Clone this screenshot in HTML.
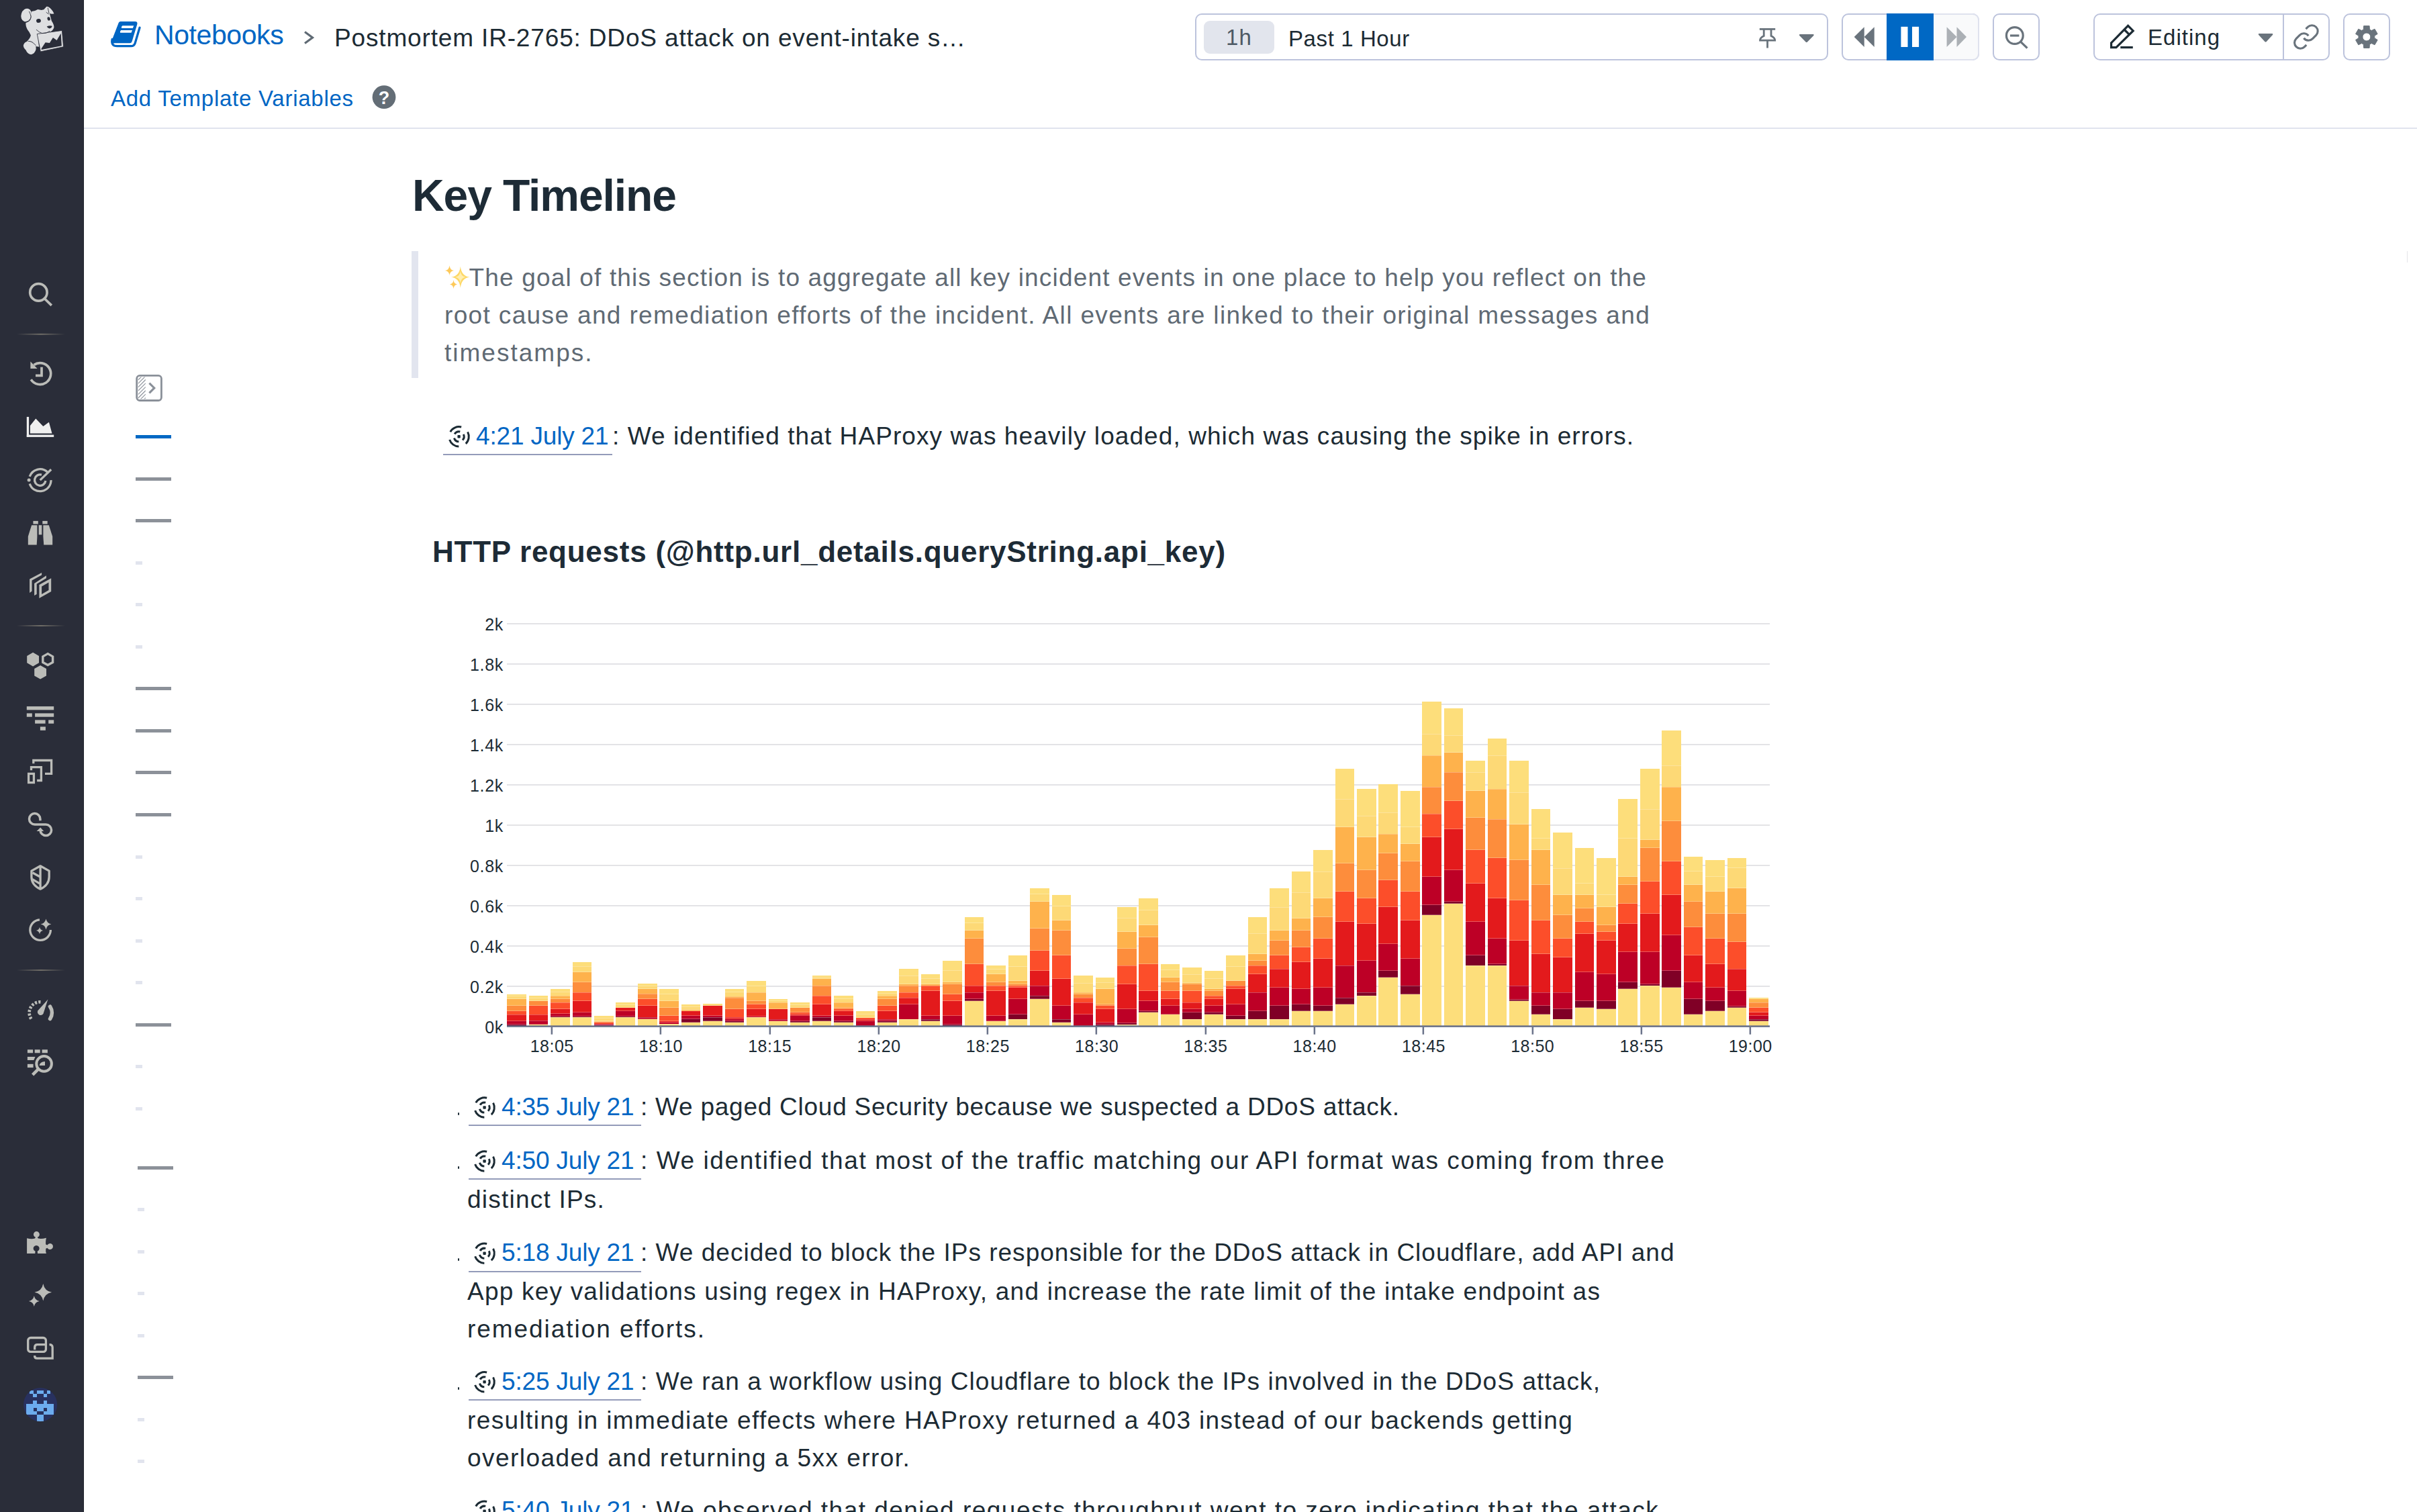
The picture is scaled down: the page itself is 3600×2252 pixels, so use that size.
<!DOCTYPE html>
<html lang="en"><head><meta charset="utf-8"><title>Postmortem IR-2765: DDoS attack on event-intake service</title>
<style>
html,body{margin:0;padding:0;}
body{width:3600px;height:2252px;overflow:hidden;background:#fff;position:relative;font-family:"Liberation Sans",sans-serif;}
.t{position:absolute;white-space:pre;margin:0;padding:0;font-weight:400;}
a.t{text-decoration:none;}
.abs{position:absolute;}
#sidebar{position:absolute;left:0;top:0;width:125px;height:2252px;background:#2a2d39;box-sizing:border-box;border-right:1px solid #20232d;}
#header{position:absolute;left:125px;top:0;width:3475px;height:190px;border-bottom:2px solid #e0e3ee;background:#fff;}
.box{position:absolute;box-sizing:border-box;border:2px solid #bcc3dc;border-radius:10px;background:#fff;}
.ul{position:absolute;height:2px;background:#939bb9;}
svg{position:absolute;overflow:visible;}
</style></head><body>
<div id="sidebar"></div><svg id="sideicons" style="left:0;top:0" width="125" height="2252" viewBox="0 0 125 2252"><defs><linearGradient id="dv" x1="0" x2="1" y1="0" y2="0"><stop offset="0" stop-color="#77746c" stop-opacity="0"/><stop offset="0.5" stop-color="#77746c" stop-opacity="0.9"/><stop offset="1" stop-color="#77746c" stop-opacity="0"/></linearGradient></defs><rect x="25" y="496.8" width="72" height="2" fill="url(#dv)"/><rect x="25" y="931" width="72" height="2" fill="url(#dv)"/><rect x="25" y="1444" width="72" height="2" fill="url(#dv)"/><g transform="translate(20,0) scale(0.05952)"><g fill="#dedfe1"><ellipse cx="322" cy="378" rx="128" ry="168" transform="rotate(18 322 378)"/><path d="M455,285 L540,270 L610,235 L700,250 L760,240 L830,165 Q870,150 930,215 Q1000,290 1015,345 L960,350 L905,335 L955,520 Q1020,620 1015,690 Q990,780 900,800 L880,830 L790,850 L640,850 L610,870 L640,1170 L560,1160 L470,1040 L380,1030 L330,1040 Q420,960 435,880 Q400,800 350,740 Q300,640 310,570 Q420,540 450,420 Z"/><path d="M380,1035 Q280,1040 250,1130 Q245,1200 310,1250 Q350,1350 440,1365 Q540,1340 565,1230 Q575,1110 470,1045 Z"/><path d="M593,850 L1217,763 L1252,1172 L678,1292 Z" stroke="#2a2d39" stroke-width="14"/></g><g fill="#2a2d39"><path d="M700,1212 L800,1062 L905,1076 L990,940 L1085,1006 L1187,835 L1207,1145 L702,1242 Z"/><ellipse cx="630" cy="520" rx="58" ry="50" transform="rotate(-12 630 520)"/><ellipse cx="885" cy="470" rx="36" ry="46" transform="rotate(-15 885 470)"/><path d="M835,665 Q900,630 970,650 Q960,700 900,715 Q850,700 835,665 Z"/></g><g fill="none" stroke="#2a2d39" stroke-width="14" stroke-linecap="round"><path d="M575,745 Q640,810 720,835 Q820,850 905,780"/><path d="M395,290 Q470,420 410,510 Q380,545 320,545"/><path d="M862,200 L890,330 M825,310 L880,352"/><path d="M380,1030 Q470,1030 560,1135"/></g></g><g fill="none" stroke="#bbbcb8" stroke-width="3.7"><circle cx="57.4" cy="435.4" r="12.7"/><path d="M66.6,445 L76.8,454.8"/></g><g fill="none" stroke="#bbbcb8" stroke-width="3.7"><path d="M50.5,543.5 A16,16 0 1 1 46.2,565.2"/><path d="M62,546.8 V559.4 H53"/></g><path d="M45.4,538.6 V548.9 H55.6 Z" fill="#bbbcb8"/><g fill="#efefef"><rect x="39.8" y="620.9" width="3.3" height="30"/><rect x="39.8" y="647.6" width="40.4" height="3.3"/><path d="M44.9,645.6 V634.1 L53.3,623.5 L64.3,635 L72.9,628.8 L77.5,645.6 Z"/></g><g fill="none" stroke="#bbbcb8" stroke-width="3.3"><path d="M44.2,709.8 A16.3,16.3 0 0 1 70.5,702.9"/><path d="M44.2,720.4 A16.3,16.3 0 0 0 76,715.1"/><path d="M67.9,716 A8.2,8.2 0 1 1 62,707.2"/><path d="M59.7,715.1 L76.2,699.3"/></g><circle cx="43.1" cy="715.1" r="2.5" fill="#bbbcb8"/><g fill="#bbbcb8"><rect x="49.4" y="775.9" width="7.4" height="4.6"/><rect x="63.3" y="775.9" width="7.4" height="4.6"/><path d="M47.1,782.2 H55.4 V799 L54.7,811.6 H41.8 V799 Z"/><path d="M72.8,782.2 H64.4 V799 L65.2,811.6 H78.2 V799 Z"/><rect x="57.7" y="782.2" width="4.6" height="14.2"/></g><g fill="#bbbcb8" fill-rule="evenodd"><path d="M58.4,871.1 L76.2,861.2 V881 L58.4,891 Z M62.1,873.5 V885 L72.5,879 V867.4 Z"/><path d="M51.1,869.1 L68.9,857.2 V861.2 L54.7,869.8 V885 L51.1,887 Z"/><path d="M44.1,862.5 L62.1,853 V856.6 L47.5,864.5 V880.4 L44.1,883 Z"/></g><polygon points="49.1,971.8 58.0,977.0 58.0,987.2 49.1,992.4 40.2,987.2 40.2,977.0" fill="#bbbcb8"/><polygon points="60.1,990.9 69.0,996.1 69.0,1006.4 60.1,1011.5 51.2,1006.4 51.2,996.1" fill="#bbbcb8"/><polygon points="71.2,973.6 78.6,977.9 78.6,986.4 71.2,990.6 63.8,986.4 63.8,977.9" fill="none" stroke="#bbbcb8" stroke-width="3.4"/><g fill="#bbbcb8"><rect x="39.8" y="1052.1" width="40.4" height="5.3"/><rect x="39.8" y="1062.4" width="8" height="5.3"/><rect x="52.1" y="1062.4" width="28.1" height="5.3"/><rect x="52.1" y="1072.4" width="15.5" height="5.3"/><rect x="72.2" y="1072.4" width="8" height="5.3"/><rect x="59.9" y="1082.4" width="8" height="5.4"/></g><g fill="none" stroke="#bbbcb8" stroke-width="3.3"><path d="M49.8,1137.3 V1132.5 H76.6 V1152.3 H67"/><path d="M46.5,1147.2 V1142.7 H61.4 V1162.5 H55.1"/><rect x="42.6" y="1152.4" width="7.8" height="13.2"/></g><g fill="none" stroke="#bbbcb8" stroke-width="3.5"><path d="M59.9,1222.2 V1219.8 A8.2,8.2 0 1 0 51.7,1228 H68.3 A8.3,8.3 0 1 1 60,1236.6"/></g><path d="M54.6,1238 L60.2,1232.6 L65.2,1238 Z" fill="#bbbcb8"/><g fill="none" stroke="#bbbcb8" stroke-width="3.3" stroke-linejoin="round"><path d="M60.1,1289.8 L73.2,1297.1 V1306 Q73.2,1318 60.1,1324.2 Q46.9,1318 46.9,1306 V1297.1 Z"/><path d="M60.1,1290 V1324 M48.4,1299.8 L59.7,1306 M48.4,1309.7 L59.7,1316.3"/></g><path d="M59,1369.8 A15.3,15.3 0 1 0 75.4,1385.1" fill="none" stroke="#bbbcb8" stroke-width="3.3"/><path d="M68.5,1368.6 Q69.8,1375.2 76.4,1376.5 Q69.8,1377.8 68.5,1384.4 Q67.2,1377.8 60.6,1376.5 Q67.2,1375.2 68.5,1368.6Z" fill="#bbbcb8"/><path d="M59.0,1380.8 Q59.8,1385.2 64.2,1386.0 Q59.8,1386.8 59.0,1391.2 Q58.2,1386.8 53.8,1386.0 Q58.2,1385.2 59.0,1380.8Z" fill="#bbbcb8"/><g fill="none" stroke="#bbbcb8"><path d="M46.5,1517.5 A16,16 0 0 1 62.5,1492.6" stroke-width="4.6" stroke-dasharray="3.2 2.2"/><path d="M74.6,1499.3 A16.5,16.5 0 0 1 74.6,1517.5" stroke-width="5.6" stroke-linecap="round"/></g><path d="M71.4,1488.4 L64.6,1509.4 A4.6,4.6 0 1 1 56.4,1505.2 Z" fill="#bbbcb8"/><g fill="#bbbcb8"><rect x="40.9" y="1563.3" width="8.2" height="5"/><rect x="51.7" y="1563.3" width="8" height="5"/><rect x="62.6" y="1563.3" width="8.3" height="5"/><path d="M40.9,1574.1 H52.5 L50.3,1579.1 H40.9 Z"/><rect x="40.9" y="1584.8" width="8.7" height="5.3"/><path d="M58.6,1587 H67 V1581.1 Q59.5,1581.5 58.6,1587 Z"/></g><g fill="none" stroke="#bbbcb8"><circle cx="65.6" cy="1584.4" r="11.3" stroke-width="4"/><path d="M56.8,1592.6 L48.6,1600.8" stroke-width="4.6"/></g><g fill="#bbbcb8"><path d="M40.1,1844.3 Q47,1845.8 52,1844.6 L53,1842.8 A4.5,4.5 0 1 1 55.8,1842.8 L56.8,1844.6 Q62,1845.8 68.9,1843.7 Q67.6,1850 68.3,1853.5 L70.5,1854.5 A4.5,4.5 0 1 1 70.5,1858.7 L68.3,1859.7 Q67.8,1863.5 68.9,1867.1 H56 L55.8,1863.6 A4.5,4.5 0 1 0 52.5,1863.6 L52.3,1867.1 H40.1 Z"/></g><path d="M50.8,1927.8 Q52.4,1936.4 61.0,1938.0 Q52.4,1939.6 50.8,1948.2 Q49.2,1939.6 40.6,1938.0 Q49.2,1936.4 50.8,1927.8Z" fill="#2a2d39"/><path d="M64.3,1912.0 Q66.3,1922.8 77.1,1924.8 Q66.3,1926.8 64.3,1937.6 Q62.3,1926.8 51.5,1924.8 Q62.3,1922.8 64.3,1912.0Z" fill="#bbbcb8"/><path d="M50.8,1927.4 Q52.5,1936.3 61.4,1938.0 Q52.5,1939.7 50.8,1948.6 Q49.1,1939.7 40.2,1938.0 Q49.1,1936.3 50.8,1927.4Z" fill="#2a2d39"/><path d="M50.8,1930.1 Q52.1,1936.7 58.7,1938.0 Q52.1,1939.3 50.8,1945.9 Q49.5,1939.3 42.9,1938.0 Q49.5,1936.7 50.8,1930.1Z" fill="#bbbcb8"/><g fill="none" stroke="#bbbcb8" stroke-width="3.3"><rect x="41.7" y="1992.5" width="26.7" height="20.9" rx="4"/><path d="M51.7,2010.3 V2006.7 Q51.7,2002.7 55.7,2002.7 H67"/><path d="M73.5,2002.7 Q78.2,2002.7 78.2,2007 V2023.2 H55 Q51.6,2023.2 51.6,2019"/></g><clipPath id="avc"><circle cx="60.1" cy="2092" r="25.1"/></clipPath><g clip-path="url(#avc)"><rect x="30" y="2060" width="62" height="64" fill="#28315f"/><g fill="#6cacee" shape-rendering="crispEdges"><rect x="44.33" y="2070.80" width="5.22" height="5.22"/><rect x="54.58" y="2070.80" width="5.22" height="5.22"/><rect x="59.70" y="2070.80" width="5.22" height="5.22"/><rect x="69.95" y="2070.80" width="5.22" height="5.22"/><rect x="49.45" y="2075.93" width="5.22" height="5.22"/><rect x="64.83" y="2075.93" width="5.22" height="5.22"/><rect x="49.45" y="2086.18" width="5.22" height="5.22"/><rect x="64.83" y="2086.18" width="5.22" height="5.22"/><rect x="39.20" y="2091.30" width="5.22" height="5.22"/><rect x="44.33" y="2091.30" width="5.22" height="5.22"/><rect x="49.45" y="2091.30" width="5.22" height="5.22"/><rect x="54.58" y="2091.30" width="5.22" height="5.22"/><rect x="59.70" y="2091.30" width="5.22" height="5.22"/><rect x="64.83" y="2091.30" width="5.22" height="5.22"/><rect x="69.95" y="2091.30" width="5.22" height="5.22"/><rect x="75.08" y="2091.30" width="5.22" height="5.22"/><rect x="39.20" y="2096.43" width="5.22" height="5.22"/><rect x="44.33" y="2096.43" width="5.22" height="5.22"/><rect x="54.58" y="2096.43" width="5.22" height="5.22"/><rect x="59.70" y="2096.43" width="5.22" height="5.22"/><rect x="69.95" y="2096.43" width="5.22" height="5.22"/><rect x="75.08" y="2096.43" width="5.22" height="5.22"/><rect x="39.20" y="2101.55" width="5.22" height="5.22"/><rect x="44.33" y="2101.55" width="5.22" height="5.22"/><rect x="49.45" y="2101.55" width="5.22" height="5.22"/><rect x="64.83" y="2101.55" width="5.22" height="5.22"/><rect x="69.95" y="2101.55" width="5.22" height="5.22"/><rect x="75.08" y="2101.55" width="5.22" height="5.22"/><rect x="54.58" y="2106.68" width="5.22" height="5.22"/><rect x="59.70" y="2106.68" width="5.22" height="5.22"/><rect x="54.58" y="2111.80" width="5.22" height="5.22"/><rect x="59.70" y="2111.80" width="5.22" height="5.22"/></g></g></svg><div id="header"></div><a class="t" style="left:230.0px;top:28.3px;font-size:41px;line-height:49.2px;color:#0066c4;letter-spacing:-0.414px;">Notebooks</a><span class="t" style="left:498.0px;top:34.9px;font-size:37px;line-height:44.4px;color:#1c2b34;letter-spacing:0.845px;">Postmortem IR-2765: DDoS attack on event-intake s…</span><a class="t" style="left:165.0px;top:126.9px;font-size:33px;line-height:39.6px;color:#0066c4;letter-spacing:0.744px;">Add Template Variables</a><div class="box" style="left:1780px;top:20px;width:943px;height:70px;"></div><div class="abs" style="left:1793px;top:31px;width:105px;height:49px;border-radius:9px;background:#e2e5ed;"></div><span class="t" style="left:1826.1px;top:36.3px;font-size:33px;line-height:39.6px;color:#4d5964;letter-spacing:1.000px;">1h</span><span class="t" style="left:1919.0px;top:37.7px;font-size:33px;line-height:39.6px;color:#1c2b34;letter-spacing:0.595px;">Past 1 Hour</span><div class="box" style="left:2743px;top:20px;width:205px;height:70px;overflow:hidden;"><div class="abs" style="left:135px;top:-2px;width:70px;height:70px;background:#f9fafb;"></div></div><div class="abs" style="left:2880px;top:20px;width:68px;height:70px;box-sizing:border-box;border:2px solid #dfe2ee;border-left:none;border-radius:0 10px 10px 0;background:#f9fafb;"></div><div class="abs" style="left:2810px;top:20px;width:70px;height:70px;background:#0068c4;"></div><div class="box" style="left:2968px;top:20px;width:70px;height:70px;"></div><div class="box" style="left:3118px;top:20px;width:352px;height:70px;"></div><div class="abs" style="left:3400px;top:21px;width:2px;height:68px;background:#bcc3dc;"></div><span class="t" style="left:3199.0px;top:36.4px;font-size:33px;line-height:39.6px;color:#1c2b34;letter-spacing:1.014px;">Editing</span><div class="box" style="left:3490px;top:20px;width:70px;height:70px;"></div><svg id="headicons" style="left:0;top:0" width="3600" height="192" viewBox="0 0 3600 192"><g fill="#0066c4"><path d="M179.5,31.9 H201 Q205.4,31.9 204.3,36.2 L196.6,61.8 Q195.8,64.3 193.2,64.3 H171 Q168.5,64.3 167.3,66 L166.4,62.5 Q166.6,60 167.6,57.5 L176.8,33.8 Q177.6,31.9 179.5,31.9 Z"/></g><path d="M167.2,58.5 Q164.8,68.7 174.5,68.7 H195.2 Q199.8,68.7 201.2,64.2 L208,41.2" fill="none" stroke="#0066c4" stroke-width="3.3" stroke-linecap="round"/><path d="M182.4,38.2 H199.3 L197.8,42 H181 Q180.6,39 182.4,38.2 Z M180.2,45 H197 L195.5,48.7 H179 Q178.5,46 180.2,45 Z" fill="#fff"/><path d="M454,47.5 L465.5,56 L454,64.5" fill="none" stroke="#5f6a74" stroke-width="3.2"/><circle cx="572" cy="144.7" r="17.4" fill="#636d76"/><g fill="none" stroke="#69737c" stroke-width="2.8"><path d="M2620.8,43.4 H2644.2"/><path d="M2627.2,44 V53.5 Q2621.5,56 2621.5,60.2 H2643.7 Q2643.7,56 2638,53.5 V44"/><path d="M2632.5,61 V71.5"/></g><path d="M2681.0,51 H2700.5 Q2702.5,51.5 2701,53.2 L2691.95,62.6 Q2690.75,63.6 2689.55,62.6 L2680.5,53.2 Q2679.0,51.5 2681.0,51 Z" fill="#69737c"/><path d="M3364.9,50 H3384.2 Q3386.2,50.5 3384.7,52.2 L3375.75,61.9 Q3374.55,62.9 3373.3500000000004,61.9 L3364.4,52.2 Q3362.9,50.5 3364.9,50 Z" fill="#69737c"/><path d="M2761.7,55 L2776.7,40.2 V55 L2791.7,40.2 V70 L2776.7,55 V70 Z" fill="#69737c"/><rect x="2831.4" y="39.8" width="10.1" height="30.2" fill="#fff"/><rect x="2848" y="39.8" width="10.1" height="30.2" fill="#fff"/><path d="M2929,55 L2914.5,40.2 V55 L2899.6,40.2 V70 L2914.5,55 V70 Z" fill="#abb0b5"/><g fill="none" stroke="#69737c" stroke-width="3.2"><circle cx="3000.8" cy="53" r="12.4"/><path d="M2994,53 H3007.4"/><path d="M3009.8,62.3 L3019.5,71.6"/></g><g fill="none" stroke="#1c2b34" stroke-width="3.2" stroke-linejoin="miter"><path d="M3144.6,70.6 V63.8 L3169.6,38.3 L3177.2,45.9 L3152,70.6 Z"/><path d="M3164,44 L3171.6,51.6"/><path d="M3158.3,70.6 H3176.8"/></g><g transform="translate(3414,34.1) scale(1.74)" fill="none" stroke="#69737c" stroke-width="1.8" stroke-linecap="butt"><path d="M10 13a5 5 0 0 0 7.54.54l3-3a5 5 0 0 0-7.07-7.07l-1.72 1.71"/><path d="M14 11a5 5 0 0 0-7.54-.54l-3 3a5 5 0 0 0 7.07 7.07l1.71-1.71"/></g><path d="M3520.4,43.9 L3520.7,38.6 L3529.1,38.6 L3529.4,43.9 L3532.3,45.5 L3537.0,43.2 L3541.2,50.5 L3536.8,53.3 L3536.8,56.7 L3541.2,59.5 L3537.0,66.8 L3532.3,64.5 L3529.4,66.1 L3529.1,71.4 L3520.7,71.4 L3520.4,66.1 L3517.5,64.5 L3512.8,66.8 L3508.6,59.5 L3513.0,56.7 L3513.0,53.3 L3508.6,50.5 L3512.8,43.2 L3517.5,45.5 Z M3530.9,55 A6,6 0 1 0 3518.9,55 A6,6 0 1 0 3530.9,55 Z" fill="#69737c" fill-rule="evenodd" stroke="#69737c" stroke-width="1" stroke-linejoin="round"/></svg><span class="t" style="left:563.8px;top:129.8px;font-size:27px;line-height:32.4px;color:#fff;font-weight:700;">?</span><div class="abs" style="left:202px;top:648.0px;width:53px;height:5px;background:#0068c4;"></div><div class="abs" style="left:202px;top:710.5px;width:53px;height:5px;background:#8c9199;"></div><div class="abs" style="left:202px;top:773.1px;width:53px;height:5px;background:#8c9199;"></div><div class="abs" style="left:202px;top:835.6px;width:10px;height:5px;background:#e1e4ee;"></div><div class="abs" style="left:202px;top:898.2px;width:10px;height:5px;background:#e1e4ee;"></div><div class="abs" style="left:202px;top:960.8px;width:10px;height:5px;background:#e1e4ee;"></div><div class="abs" style="left:202px;top:1023.3px;width:53px;height:5px;background:#8c9199;"></div><div class="abs" style="left:202px;top:1085.8px;width:53px;height:5px;background:#8c9199;"></div><div class="abs" style="left:202px;top:1148.4px;width:53px;height:5px;background:#8c9199;"></div><div class="abs" style="left:202px;top:1210.9px;width:53px;height:5px;background:#8c9199;"></div><div class="abs" style="left:202px;top:1273.5px;width:10px;height:5px;background:#e1e4ee;"></div><div class="abs" style="left:202px;top:1336.0px;width:10px;height:5px;background:#e1e4ee;"></div><div class="abs" style="left:202px;top:1398.6px;width:10px;height:5px;background:#e1e4ee;"></div><div class="abs" style="left:202px;top:1461.2px;width:10px;height:5px;background:#e1e4ee;"></div><div class="abs" style="left:202px;top:1523.7px;width:53px;height:5px;background:#8c9199;"></div><div class="abs" style="left:202px;top:1586.2px;width:10px;height:5px;background:#e1e4ee;"></div><div class="abs" style="left:202px;top:1648.8px;width:10px;height:5px;background:#e1e4ee;"></div><div class="abs" style="left:205px;top:1736.5px;width:53px;height:5px;background:#8c9199;"></div><div class="abs" style="left:205px;top:1799.0px;width:10px;height:5px;background:#e1e4ee;"></div><div class="abs" style="left:205px;top:1861.5px;width:10px;height:5px;background:#e1e4ee;"></div><div class="abs" style="left:205px;top:1924.0px;width:10px;height:5px;background:#e1e4ee;"></div><div class="abs" style="left:205px;top:1986.5px;width:10px;height:5px;background:#e1e4ee;"></div><div class="abs" style="left:205px;top:2049.1px;width:53px;height:5px;background:#8c9199;"></div><div class="abs" style="left:205px;top:2111.5px;width:10px;height:5px;background:#e1e4ee;"></div><div class="abs" style="left:205px;top:2174.0px;width:10px;height:5px;background:#e1e4ee;"></div><h1 class="t" style="left:614.0px;top:252.4px;font-size:66px;line-height:79.2px;color:#1d2b36;font-weight:700;letter-spacing:-1.084px;">Key Timeline</h1><div class="abs" style="left:613px;top:374px;width:10px;height:189px;background:#e2e5ef;"></div><span class="t" style="left:698.5px;top:391.9px;font-size:37px;line-height:44.4px;color:#5f6a74;letter-spacing:1.168px;">The goal of this section is to aggregate all key incident events in one place to help you reflect on the</span><span class="t" style="left:662.0px;top:447.7px;font-size:37px;line-height:44.4px;color:#5f6a74;letter-spacing:1.357px;">root cause and remediation efforts of the incident. All events are linked to their original messages and</span><span class="t" style="left:662.0px;top:504.1px;font-size:37px;line-height:44.4px;color:#5f6a74;letter-spacing:2.006px;">timestamps.</span><svg style="left:0;top:0" width="1" height="1"><path d="M670.74,643.17 A14.7,14.7 0 0 1 687.16,636.04 M696.58,643.40 A14.7,14.7 0 0 1 693.81,660.87 M683.34,665.00 A14.7,14.7 0 0 1 669.62,654.84 M677.10,646.55 A7.5,7.5 0 0 1 685.29,642.99 M690.28,646.90 A7.5,7.5 0 0 1 689.00,655.51 M683.34,657.80 A7.5,7.5 0 0 1 676.43,652.49" fill="none" stroke="#1c2b34" stroke-width="3"/><rect x="681.4" y="648.1" width="4.4" height="4.4" rx="1" fill="#1c2b34"/></svg><a class="t" style="left:709.0px;top:627.7px;font-size:37px;line-height:44.4px;color:#0066c4;letter-spacing:-0.177px;">4:21 July 21</a><div class="ul" style="left:659.6px;top:676.1px;width:252.0px;"></div><span class="t" style="left:912.0px;top:627.7px;font-size:37px;line-height:44.4px;color:#1c2b34;letter-spacing:1.074px;">: We identified that HAProxy was heavily loaded, which was causing the spike in errors.</span><h2 class="t" style="left:644.0px;top:795.5px;font-size:44px;line-height:52.8px;color:#1d2b36;font-weight:700;letter-spacing:0.746px;">HTTP requests (@http.url_details.queryString.api_key)</h2><svg style="left:0;top:0" width="1" height="1"><path d="M708.74,1642.37 A14.7,14.7 0 0 1 725.16,1635.24 M734.58,1642.60 A14.7,14.7 0 0 1 731.81,1660.07 M721.34,1664.20 A14.7,14.7 0 0 1 707.62,1654.04 M715.10,1645.75 A7.5,7.5 0 0 1 723.29,1642.19 M728.28,1646.10 A7.5,7.5 0 0 1 727.00,1654.71 M721.34,1657.00 A7.5,7.5 0 0 1 714.43,1651.69" fill="none" stroke="#1c2b34" stroke-width="3"/><rect x="719.4" y="1647.3" width="4.4" height="4.4" rx="1" fill="#1c2b34"/></svg><a class="t" style="left:747.0px;top:1626.9px;font-size:37px;line-height:44.4px;color:#0066c4;letter-spacing:-0.177px;">4:35 July 21</a><div class="ul" style="left:697.7px;top:1675.3px;width:257.0px;"></div><span class="t" style="left:954.0px;top:1626.9px;font-size:37px;line-height:44.4px;color:#1c2b34;letter-spacing:0.748px;">: We paged Cloud Security because we suspected a DDoS attack.</span><svg style="left:0;top:0" width="1" height="1"><path d="M708.74,1722.37 A14.7,14.7 0 0 1 725.16,1715.24 M734.58,1722.60 A14.7,14.7 0 0 1 731.81,1740.07 M721.34,1744.20 A14.7,14.7 0 0 1 707.62,1734.04 M715.10,1725.75 A7.5,7.5 0 0 1 723.29,1722.19 M728.28,1726.10 A7.5,7.5 0 0 1 727.00,1734.71 M721.34,1737.00 A7.5,7.5 0 0 1 714.43,1731.69" fill="none" stroke="#1c2b34" stroke-width="3"/><rect x="719.4" y="1727.3" width="4.4" height="4.4" rx="1" fill="#1c2b34"/></svg><a class="t" style="left:747.0px;top:1706.9px;font-size:37px;line-height:44.4px;color:#0066c4;letter-spacing:-0.177px;">4:50 July 21</a><div class="ul" style="left:697.7px;top:1755.3px;width:257.0px;"></div><span class="t" style="left:954.0px;top:1706.9px;font-size:37px;line-height:44.4px;color:#1c2b34;letter-spacing:1.575px;">: We identified that most of the traffic matching our API format was coming from three</span><span class="t" style="left:696.0px;top:1764.7px;font-size:37px;line-height:44.4px;color:#1c2b34;letter-spacing:1.225px;">distinct IPs.</span><svg style="left:0;top:0" width="1" height="1"><path d="M708.74,1859.57 A14.7,14.7 0 0 1 725.16,1852.44 M734.58,1859.80 A14.7,14.7 0 0 1 731.81,1877.27 M721.34,1881.40 A14.7,14.7 0 0 1 707.62,1871.24 M715.10,1862.95 A7.5,7.5 0 0 1 723.29,1859.39 M728.28,1863.30 A7.5,7.5 0 0 1 727.00,1871.91 M721.34,1874.20 A7.5,7.5 0 0 1 714.43,1868.89" fill="none" stroke="#1c2b34" stroke-width="3"/><rect x="719.4" y="1864.5" width="4.4" height="4.4" rx="1" fill="#1c2b34"/></svg><a class="t" style="left:747.0px;top:1844.1px;font-size:37px;line-height:44.4px;color:#0066c4;letter-spacing:-0.177px;">5:18 July 21</a><div class="ul" style="left:697.7px;top:1892.5px;width:257.0px;"></div><span class="t" style="left:954.0px;top:1844.1px;font-size:37px;line-height:44.4px;color:#1c2b34;letter-spacing:1.013px;">: We decided to block the IPs responsible for the DDoS attack in Cloudflare, add API and</span><span class="t" style="left:696.0px;top:1901.7px;font-size:37px;line-height:44.4px;color:#1c2b34;letter-spacing:1.211px;">App key validations using regex in HAProxy, and increase the rate limit of the intake endpoint as</span><span class="t" style="left:696.0px;top:1957.5px;font-size:37px;line-height:44.4px;color:#1c2b34;letter-spacing:1.946px;">remediation efforts.</span><svg style="left:0;top:0" width="1" height="1"><path d="M708.74,2051.17 A14.7,14.7 0 0 1 725.16,2044.04 M734.58,2051.40 A14.7,14.7 0 0 1 731.81,2068.87 M721.34,2073.00 A14.7,14.7 0 0 1 707.62,2062.84 M715.10,2054.55 A7.5,7.5 0 0 1 723.29,2050.99 M728.28,2054.90 A7.5,7.5 0 0 1 727.00,2063.51 M721.34,2065.80 A7.5,7.5 0 0 1 714.43,2060.49" fill="none" stroke="#1c2b34" stroke-width="3"/><rect x="719.4" y="2056.1" width="4.4" height="4.4" rx="1" fill="#1c2b34"/></svg><a class="t" style="left:747.0px;top:2035.7px;font-size:37px;line-height:44.4px;color:#0066c4;letter-spacing:-0.177px;">5:25 July 21</a><div class="ul" style="left:697.7px;top:2084.1px;width:257.0px;"></div><span class="t" style="left:954.0px;top:2035.7px;font-size:37px;line-height:44.4px;color:#1c2b34;letter-spacing:1.096px;">: We ran a workflow using Cloudflare to block the IPs involved in the DDoS attack,</span><span class="t" style="left:696.0px;top:2094.1px;font-size:37px;line-height:44.4px;color:#1c2b34;letter-spacing:1.383px;">resulting in immediate effects where HAProxy returned a 403 instead of our backends getting</span><span class="t" style="left:696.0px;top:2149.9px;font-size:37px;line-height:44.4px;color:#1c2b34;letter-spacing:1.445px;">overloaded and returning a 5xx error.</span><svg style="left:0;top:0" width="1" height="1"><path d="M708.74,2243.57 A14.7,14.7 0 0 1 725.16,2236.44 M734.58,2243.80 A14.7,14.7 0 0 1 731.81,2261.27 M721.34,2265.40 A14.7,14.7 0 0 1 707.62,2255.24 M715.10,2246.95 A7.5,7.5 0 0 1 723.29,2243.39 M728.28,2247.30 A7.5,7.5 0 0 1 727.00,2255.91 M721.34,2258.20 A7.5,7.5 0 0 1 714.43,2252.89" fill="none" stroke="#1c2b34" stroke-width="3"/><rect x="719.4" y="2248.5" width="4.4" height="4.4" rx="1" fill="#1c2b34"/></svg><a class="t" style="left:747.0px;top:2228.1px;font-size:37px;line-height:44.4px;color:#0066c4;letter-spacing:-0.177px;">5:40 July 21</a><div class="ul" style="left:697.7px;top:2276.5px;width:257.0px;"></div><span class="t" style="left:954.0px;top:2228.1px;font-size:37px;line-height:44.4px;color:#1c2b34;letter-spacing:1.476px;">: We observed that denied requests throughput went to zero indicating that the attack</span><svg style="left:0;top:0" width="1" height="1"><clipPath id="hc"><rect x="205.6" y="561.6" width="11.3" height="32.6"/></clipPath><rect x="203.7" y="559.3" width="36.7" height="37.2" rx="4.5" fill="#fff" stroke="#8a9099" stroke-width="2.8"/><path d="M205.6,566.0 L216.9,554.7 M205.6,571.4 L216.9,560.1 M205.6,576.8 L216.9,565.5 M205.6,582.2 L216.9,570.9 M205.6,587.6 L216.9,576.3 M205.6,593.0 L216.9,581.7 M205.6,598.4 L216.9,587.1 M205.6,603.8 L216.9,592.5" stroke="#8a9099" stroke-width="1.1" fill="none" clip-path="url(#hc)"/><path d="M222.4,570.6 L229.8,577.9 L222.4,585.4" fill="none" stroke="#8a9099" stroke-width="3.1"/></svg><svg style="left:0;top:0" width="1" height="1"><path d="M685.8,396.8 Q687.2,411.2 699.6,412.8 Q687.2,414.4 685.8,428.8 Q684.4,414.4 672.0,412.8 Q684.4,411.2 685.8,396.8Z" fill="#fdd866"/><path d="M685.8,403.8 Q686.6,411.9 693.5,412.8 Q686.6,413.7 685.8,421.8 Q685.0,413.7 678.1,412.8 Q685.0,411.9 685.8,403.8Z" fill="#ffeeb0"/><path d="M669.5,395.5 Q670.1,402.2 676.0,403.0 Q670.1,403.8 669.5,410.5 Q668.9,403.8 663.0,403.0 Q668.9,402.2 669.5,395.5Z" fill="#fdc95a"/><path d="M675.5,417.0 Q676.1,422.9 681.1,423.5 Q676.1,424.1 675.5,430.0 Q674.9,424.1 669.9,423.5 Q674.9,422.9 675.5,417.0Z" fill="#fdc95a"/></svg><div class="abs" style="left:682px;top:1656.8px;width:2px;height:4px;background:#1c2b34;border-radius:1px;"></div><div class="abs" style="left:682px;top:1736.8px;width:2px;height:4px;background:#1c2b34;border-radius:1px;"></div><div class="abs" style="left:682px;top:1874.0px;width:2px;height:4px;background:#1c2b34;border-radius:1px;"></div><div class="abs" style="left:682px;top:2065.6px;width:2px;height:4px;background:#1c2b34;border-radius:1px;"></div><div class="abs" style="left:682px;top:2258.0px;width:2px;height:4px;background:#1c2b34;border-radius:1px;"></div><div class="abs" style="left:3585px;top:374px;width:1px;height:17px;background:#e4e4e8;"></div><svg id="chart" style="left:0;top:880px" width="3600" height="720" viewBox="0 880 3600 720" shape-rendering="crispEdges"><rect x="755" y="1468.3" width="1881" height="2" fill="#e3e3e6"/><rect x="755" y="1408.3" width="1881" height="2" fill="#e3e3e6"/><rect x="755" y="1348.3" width="1881" height="2" fill="#e3e3e6"/><rect x="755" y="1288.3" width="1881" height="2" fill="#e3e3e6"/><rect x="755" y="1228.3" width="1881" height="2" fill="#e3e3e6"/><rect x="755" y="1168.3" width="1881" height="2" fill="#e3e3e6"/><rect x="755" y="1108.3" width="1881" height="2" fill="#e3e3e6"/><rect x="755" y="1048.3" width="1881" height="2" fill="#e3e3e6"/><rect x="755" y="988.3" width="1881" height="2" fill="#e3e3e6"/><rect x="755" y="928.3" width="1881" height="2" fill="#e3e3e6"/><rect x="755.20" y="1525.6" width="28.6" height="2.6" fill="#800026"/><rect x="755.20" y="1520.6" width="28.6" height="5.0" fill="#bd0026"/><rect x="755.20" y="1511.1" width="28.6" height="9.5" fill="#e31a1c"/><rect x="755.20" y="1505.6" width="28.6" height="5.5" fill="#fc4e2a"/><rect x="755.20" y="1497.6" width="28.6" height="8.0" fill="#fd8d3c"/><rect x="755.20" y="1487.6" width="28.6" height="10.0" fill="#feb24c"/><rect x="755.20" y="1483.8" width="28.6" height="3.9" fill="#fdd976"/><rect x="755.20" y="1480.6" width="28.6" height="3.1" fill="#fdde7b"/><rect x="787.66" y="1525.6" width="28.6" height="2.6" fill="#fdde7b"/><rect x="787.66" y="1520.1" width="28.6" height="5.5" fill="#bd0026"/><rect x="787.66" y="1511.1" width="28.6" height="9.0" fill="#e31a1c"/><rect x="787.66" y="1497.6" width="28.6" height="13.5" fill="#fc4e2a"/><rect x="787.66" y="1490.6" width="28.6" height="7.0" fill="#fd8d3c"/><rect x="787.66" y="1486.5" width="28.6" height="4.1" fill="#fdd976"/><rect x="787.66" y="1483.1" width="28.6" height="3.4" fill="#fdde7b"/><rect x="820.11" y="1515.1" width="28.6" height="13.1" fill="#fdde7b"/><rect x="820.11" y="1513.6" width="28.6" height="1.5" fill="#800026"/><rect x="820.11" y="1509.6" width="28.6" height="4.0" fill="#bd0026"/><rect x="820.11" y="1502.6" width="28.6" height="7.0" fill="#e31a1c"/><rect x="820.11" y="1493.1" width="28.6" height="9.5" fill="#fc4e2a"/><rect x="820.11" y="1487.6" width="28.6" height="5.5" fill="#fd8d3c"/><rect x="820.11" y="1483.1" width="28.6" height="4.5" fill="#feb24c"/><rect x="820.11" y="1477.3" width="28.6" height="5.8" fill="#fdd976"/><rect x="820.11" y="1472.6" width="28.6" height="4.7" fill="#fdde7b"/><rect x="852.57" y="1515.1" width="28.6" height="13.1" fill="#fdde7b"/><rect x="852.57" y="1513.6" width="28.6" height="1.5" fill="#800026"/><rect x="852.57" y="1507.6" width="28.6" height="6.0" fill="#bd0026"/><rect x="852.57" y="1490.6" width="28.6" height="17.0" fill="#e31a1c"/><rect x="852.57" y="1478.1" width="28.6" height="12.5" fill="#fc4e2a"/><rect x="852.57" y="1462.6" width="28.6" height="15.5" fill="#fd8d3c"/><rect x="852.57" y="1447.6" width="28.6" height="15.0" fill="#feb24c"/><rect x="852.57" y="1439.4" width="28.6" height="8.2" fill="#fdd976"/><rect x="852.57" y="1432.6" width="28.6" height="6.8" fill="#fdde7b"/><rect x="885.02" y="1526.6" width="28.6" height="1.6" fill="#800026"/><rect x="885.02" y="1525.1" width="28.6" height="1.5" fill="#bd0026"/><rect x="885.02" y="1522.6" width="28.6" height="2.5" fill="#fc4e2a"/><rect x="885.02" y="1521.6" width="28.6" height="1.0" fill="#fd8d3c"/><rect x="885.02" y="1520.6" width="28.6" height="1.0" fill="#feb24c"/><rect x="885.02" y="1516.2" width="28.6" height="4.4" fill="#fdd976"/><rect x="885.02" y="1512.6" width="28.6" height="3.6" fill="#fdde7b"/><rect x="917.48" y="1515.1" width="28.6" height="13.1" fill="#fdde7b"/><rect x="917.48" y="1513.6" width="28.6" height="1.5" fill="#800026"/><rect x="917.48" y="1505.6" width="28.6" height="8.0" fill="#bd0026"/><rect x="917.48" y="1500.6" width="28.6" height="5.0" fill="#e31a1c"/><rect x="917.48" y="1496.5" width="28.6" height="4.1" fill="#fdd976"/><rect x="917.48" y="1493.1" width="28.6" height="3.4" fill="#fdde7b"/><rect x="949.94" y="1517.6" width="28.6" height="10.6" fill="#fdde7b"/><rect x="949.94" y="1515.1" width="28.6" height="2.5" fill="#bd0026"/><rect x="949.94" y="1497.6" width="28.6" height="17.5" fill="#e31a1c"/><rect x="949.94" y="1487.6" width="28.6" height="10.0" fill="#fc4e2a"/><rect x="949.94" y="1480.1" width="28.6" height="7.5" fill="#fd8d3c"/><rect x="949.94" y="1472.6" width="28.6" height="7.5" fill="#feb24c"/><rect x="949.94" y="1468.5" width="28.6" height="4.1" fill="#fdd976"/><rect x="949.94" y="1465.1" width="28.6" height="3.4" fill="#fdde7b"/><rect x="982.39" y="1525.1" width="28.6" height="3.1" fill="#fdde7b"/><rect x="982.39" y="1522.6" width="28.6" height="2.5" fill="#bd0026"/><rect x="982.39" y="1520.6" width="28.6" height="2.0" fill="#e31a1c"/><rect x="982.39" y="1512.6" width="28.6" height="8.0" fill="#fc4e2a"/><rect x="982.39" y="1500.6" width="28.6" height="12.0" fill="#fd8d3c"/><rect x="982.39" y="1490.6" width="28.6" height="10.0" fill="#feb24c"/><rect x="982.39" y="1480.7" width="28.6" height="9.9" fill="#fdd976"/><rect x="982.39" y="1472.6" width="28.6" height="8.1" fill="#fdde7b"/><rect x="1014.85" y="1522.6" width="28.6" height="5.6" fill="#fdde7b"/><rect x="1014.85" y="1517.6" width="28.6" height="5.0" fill="#800026"/><rect x="1014.85" y="1512.6" width="28.6" height="5.0" fill="#bd0026"/><rect x="1014.85" y="1505.6" width="28.6" height="7.0" fill="#e31a1c"/><rect x="1014.85" y="1503.6" width="28.6" height="2.0" fill="#feb24c"/><rect x="1014.85" y="1499.2" width="28.6" height="4.4" fill="#fdd976"/><rect x="1014.85" y="1495.6" width="28.6" height="3.6" fill="#fdde7b"/><rect x="1047.30" y="1520.6" width="28.6" height="7.6" fill="#fdde7b"/><rect x="1047.30" y="1515.1" width="28.6" height="5.5" fill="#800026"/><rect x="1047.30" y="1512.6" width="28.6" height="2.5" fill="#bd0026"/><rect x="1047.30" y="1497.6" width="28.6" height="15.0" fill="#e31a1c"/><rect x="1047.30" y="1496.2" width="28.6" height="1.4" fill="#fdd976"/><rect x="1047.30" y="1495.1" width="28.6" height="1.1" fill="#fdde7b"/><rect x="1079.76" y="1522.6" width="28.6" height="5.6" fill="#fdde7b"/><rect x="1079.76" y="1520.6" width="28.6" height="2.0" fill="#800026"/><rect x="1079.76" y="1517.6" width="28.6" height="3.0" fill="#bd0026"/><rect x="1079.76" y="1515.1" width="28.6" height="2.5" fill="#e31a1c"/><rect x="1079.76" y="1502.6" width="28.6" height="12.5" fill="#fc4e2a"/><rect x="1079.76" y="1486.1" width="28.6" height="16.5" fill="#fd8d3c"/><rect x="1079.76" y="1484.1" width="28.6" height="2.0" fill="#feb24c"/><rect x="1079.76" y="1477.8" width="28.6" height="6.3" fill="#fdd976"/><rect x="1079.76" y="1472.6" width="28.6" height="5.2" fill="#fdde7b"/><rect x="1112.22" y="1515.1" width="28.6" height="13.1" fill="#fdde7b"/><rect x="1112.22" y="1513.6" width="28.6" height="1.5" fill="#bd0026"/><rect x="1112.22" y="1502.6" width="28.6" height="11.0" fill="#e31a1c"/><rect x="1112.22" y="1495.6" width="28.6" height="7.0" fill="#fc4e2a"/><rect x="1112.22" y="1490.6" width="28.6" height="5.0" fill="#fd8d3c"/><rect x="1112.22" y="1478.1" width="28.6" height="12.5" fill="#feb24c"/><rect x="1112.22" y="1468.5" width="28.6" height="9.6" fill="#fdd976"/><rect x="1112.22" y="1460.6" width="28.6" height="7.9" fill="#fdde7b"/><rect x="1144.67" y="1520.6" width="28.6" height="7.6" fill="#fdde7b"/><rect x="1144.67" y="1518.1" width="28.6" height="2.5" fill="#bd0026"/><rect x="1144.67" y="1502.6" width="28.6" height="15.5" fill="#e31a1c"/><rect x="1144.67" y="1493.1" width="28.6" height="9.5" fill="#feb24c"/><rect x="1144.67" y="1490.1" width="28.6" height="3.0" fill="#fdd976"/><rect x="1144.67" y="1487.6" width="28.6" height="2.5" fill="#fdde7b"/><rect x="1177.13" y="1522.6" width="28.6" height="5.6" fill="#fdde7b"/><rect x="1177.13" y="1520.6" width="28.6" height="2.0" fill="#800026"/><rect x="1177.13" y="1512.6" width="28.6" height="8.0" fill="#bd0026"/><rect x="1177.13" y="1510.6" width="28.6" height="2.0" fill="#e31a1c"/><rect x="1177.13" y="1507.6" width="28.6" height="3.0" fill="#fc4e2a"/><rect x="1177.13" y="1500.6" width="28.6" height="7.0" fill="#fd8d3c"/><rect x="1177.13" y="1496.5" width="28.6" height="4.1" fill="#fdd976"/><rect x="1177.13" y="1493.1" width="28.6" height="3.4" fill="#fdde7b"/><rect x="1209.58" y="1520.6" width="28.6" height="7.6" fill="#fdde7b"/><rect x="1209.58" y="1515.1" width="28.6" height="5.5" fill="#800026"/><rect x="1209.58" y="1512.6" width="28.6" height="2.5" fill="#bd0026"/><rect x="1209.58" y="1495.6" width="28.6" height="17.0" fill="#e31a1c"/><rect x="1209.58" y="1483.1" width="28.6" height="12.5" fill="#fc4e2a"/><rect x="1209.58" y="1468.1" width="28.6" height="15.0" fill="#fd8d3c"/><rect x="1209.58" y="1457.6" width="28.6" height="10.5" fill="#feb24c"/><rect x="1209.58" y="1455.1" width="28.6" height="2.5" fill="#fdd976"/><rect x="1209.58" y="1453.1" width="28.6" height="2.0" fill="#fdde7b"/><rect x="1242.04" y="1522.6" width="28.6" height="5.6" fill="#fdde7b"/><rect x="1242.04" y="1520.6" width="28.6" height="2.0" fill="#800026"/><rect x="1242.04" y="1512.6" width="28.6" height="8.0" fill="#bd0026"/><rect x="1242.04" y="1505.6" width="28.6" height="7.0" fill="#e31a1c"/><rect x="1242.04" y="1502.6" width="28.6" height="3.0" fill="#fc4e2a"/><rect x="1242.04" y="1500.6" width="28.6" height="2.0" fill="#fd8d3c"/><rect x="1242.04" y="1493.1" width="28.6" height="7.5" fill="#feb24c"/><rect x="1242.04" y="1487.6" width="28.6" height="5.5" fill="#fdd976"/><rect x="1242.04" y="1483.1" width="28.6" height="4.5" fill="#fdde7b"/><rect x="1274.50" y="1520.6" width="28.6" height="7.6" fill="#bd0026"/><rect x="1274.50" y="1518.1" width="28.6" height="2.5" fill="#e31a1c"/><rect x="1274.50" y="1515.6" width="28.6" height="2.5" fill="#fc4e2a"/><rect x="1274.50" y="1510.1" width="28.6" height="5.5" fill="#fdd976"/><rect x="1274.50" y="1505.6" width="28.6" height="4.5" fill="#fdde7b"/><rect x="1306.95" y="1522.6" width="28.6" height="5.6" fill="#fdde7b"/><rect x="1306.95" y="1520.6" width="28.6" height="2.0" fill="#800026"/><rect x="1306.95" y="1518.1" width="28.6" height="2.5" fill="#bd0026"/><rect x="1306.95" y="1505.6" width="28.6" height="12.5" fill="#e31a1c"/><rect x="1306.95" y="1497.6" width="28.6" height="8.0" fill="#fc4e2a"/><rect x="1306.95" y="1487.6" width="28.6" height="10.0" fill="#fd8d3c"/><rect x="1306.95" y="1483.1" width="28.6" height="4.5" fill="#feb24c"/><rect x="1306.95" y="1479.0" width="28.6" height="4.1" fill="#fdd976"/><rect x="1306.95" y="1475.6" width="28.6" height="3.4" fill="#fdde7b"/><rect x="1339.41" y="1518.1" width="28.6" height="10.1" fill="#fdde7b"/><rect x="1339.41" y="1495.6" width="28.6" height="22.5" fill="#bd0026"/><rect x="1339.41" y="1486.1" width="28.6" height="9.5" fill="#e31a1c"/><rect x="1339.41" y="1478.1" width="28.6" height="8.0" fill="#fc4e2a"/><rect x="1339.41" y="1468.1" width="28.6" height="10.0" fill="#fd8d3c"/><rect x="1339.41" y="1465.6" width="28.6" height="2.5" fill="#feb24c"/><rect x="1339.41" y="1453.2" width="28.6" height="12.4" fill="#fdd976"/><rect x="1339.41" y="1443.1" width="28.6" height="10.1" fill="#fdde7b"/><rect x="1371.86" y="1520.6" width="28.6" height="7.6" fill="#fdde7b"/><rect x="1371.86" y="1518.1" width="28.6" height="2.5" fill="#800026"/><rect x="1371.86" y="1512.6" width="28.6" height="5.5" fill="#bd0026"/><rect x="1371.86" y="1475.6" width="28.6" height="37.0" fill="#e31a1c"/><rect x="1371.86" y="1468.1" width="28.6" height="7.5" fill="#fc4e2a"/><rect x="1371.86" y="1465.6" width="28.6" height="2.5" fill="#feb24c"/><rect x="1371.86" y="1457.4" width="28.6" height="8.2" fill="#fdd976"/><rect x="1371.86" y="1450.6" width="28.6" height="6.8" fill="#fdde7b"/><rect x="1404.32" y="1525.6" width="28.6" height="2.6" fill="#800026"/><rect x="1404.32" y="1512.6" width="28.6" height="13.0" fill="#bd0026"/><rect x="1404.32" y="1490.6" width="28.6" height="22.0" fill="#e31a1c"/><rect x="1404.32" y="1480.6" width="28.6" height="10.0" fill="#fc4e2a"/><rect x="1404.32" y="1465.6" width="28.6" height="15.0" fill="#fd8d3c"/><rect x="1404.32" y="1462.6" width="28.6" height="3.0" fill="#feb24c"/><rect x="1404.32" y="1445.0" width="28.6" height="17.6" fill="#fdd976"/><rect x="1404.32" y="1430.6" width="28.6" height="14.4" fill="#fdde7b"/><rect x="1436.78" y="1490.6" width="28.6" height="37.6" fill="#fdde7b"/><rect x="1436.78" y="1487.6" width="28.6" height="3.0" fill="#800026"/><rect x="1436.78" y="1478.1" width="28.6" height="9.5" fill="#bd0026"/><rect x="1436.78" y="1468.1" width="28.6" height="10.0" fill="#e31a1c"/><rect x="1436.78" y="1435.6" width="28.6" height="32.5" fill="#fc4e2a"/><rect x="1436.78" y="1397.6" width="28.6" height="38.0" fill="#fd8d3c"/><rect x="1436.78" y="1385.6" width="28.6" height="12.0" fill="#feb24c"/><rect x="1436.78" y="1374.6" width="28.6" height="11.0" fill="#fdd976"/><rect x="1436.78" y="1365.6" width="28.6" height="9.0" fill="#fdde7b"/><rect x="1469.23" y="1520.6" width="28.6" height="7.6" fill="#fdde7b"/><rect x="1469.23" y="1512.6" width="28.6" height="8.0" fill="#bd0026"/><rect x="1469.23" y="1475.6" width="28.6" height="37.0" fill="#e31a1c"/><rect x="1469.23" y="1468.1" width="28.6" height="7.5" fill="#fc4e2a"/><rect x="1469.23" y="1462.6" width="28.6" height="5.5" fill="#fd8d3c"/><rect x="1469.23" y="1450.6" width="28.6" height="12.0" fill="#feb24c"/><rect x="1469.23" y="1443.7" width="28.6" height="6.9" fill="#fdd976"/><rect x="1469.23" y="1438.1" width="28.6" height="5.6" fill="#fdde7b"/><rect x="1501.69" y="1518.1" width="28.6" height="10.1" fill="#fdde7b"/><rect x="1501.69" y="1510.6" width="28.6" height="7.5" fill="#800026"/><rect x="1501.69" y="1487.6" width="28.6" height="23.0" fill="#bd0026"/><rect x="1501.69" y="1470.6" width="28.6" height="17.0" fill="#e31a1c"/><rect x="1501.69" y="1468.1" width="28.6" height="2.5" fill="#fc4e2a"/><rect x="1501.69" y="1465.6" width="28.6" height="2.5" fill="#fd8d3c"/><rect x="1501.69" y="1460.6" width="28.6" height="5.0" fill="#feb24c"/><rect x="1501.69" y="1439.7" width="28.6" height="20.9" fill="#fdd976"/><rect x="1501.69" y="1422.6" width="28.6" height="17.1" fill="#fdde7b"/><rect x="1534.14" y="1487.6" width="28.6" height="40.6" fill="#fdde7b"/><rect x="1534.14" y="1483.1" width="28.6" height="4.5" fill="#800026"/><rect x="1534.14" y="1468.1" width="28.6" height="15.0" fill="#bd0026"/><rect x="1534.14" y="1445.6" width="28.6" height="22.5" fill="#e31a1c"/><rect x="1534.14" y="1415.6" width="28.6" height="30.0" fill="#fc4e2a"/><rect x="1534.14" y="1382.6" width="28.6" height="33.0" fill="#fd8d3c"/><rect x="1534.14" y="1342.6" width="28.6" height="40.0" fill="#feb24c"/><rect x="1534.14" y="1331.6" width="28.6" height="11.0" fill="#fdd976"/><rect x="1534.14" y="1322.6" width="28.6" height="9.0" fill="#fdde7b"/><rect x="1566.60" y="1522.6" width="28.6" height="5.6" fill="#fdde7b"/><rect x="1566.60" y="1518.1" width="28.6" height="4.5" fill="#800026"/><rect x="1566.60" y="1497.6" width="28.6" height="20.5" fill="#bd0026"/><rect x="1566.60" y="1457.6" width="28.6" height="40.0" fill="#e31a1c"/><rect x="1566.60" y="1422.6" width="28.6" height="35.0" fill="#fc4e2a"/><rect x="1566.60" y="1385.6" width="28.6" height="37.0" fill="#fd8d3c"/><rect x="1566.60" y="1370.6" width="28.6" height="15.0" fill="#feb24c"/><rect x="1566.60" y="1349.7" width="28.6" height="20.9" fill="#fdd976"/><rect x="1566.60" y="1332.6" width="28.6" height="17.1" fill="#fdde7b"/><rect x="1599.06" y="1510.6" width="28.6" height="17.6" fill="#bd0026"/><rect x="1599.06" y="1493.1" width="28.6" height="17.5" fill="#e31a1c"/><rect x="1599.06" y="1486.1" width="28.6" height="7.0" fill="#fc4e2a"/><rect x="1599.06" y="1480.6" width="28.6" height="5.5" fill="#fd8d3c"/><rect x="1599.06" y="1478.1" width="28.6" height="2.5" fill="#feb24c"/><rect x="1599.06" y="1464.4" width="28.6" height="13.7" fill="#fdd976"/><rect x="1599.06" y="1453.1" width="28.6" height="11.2" fill="#fdde7b"/><rect x="1631.51" y="1525.6" width="28.6" height="2.6" fill="#800026"/><rect x="1631.51" y="1522.6" width="28.6" height="3.0" fill="#bd0026"/><rect x="1631.51" y="1502.6" width="28.6" height="20.0" fill="#e31a1c"/><rect x="1631.51" y="1497.6" width="28.6" height="5.0" fill="#fc4e2a"/><rect x="1631.51" y="1495.6" width="28.6" height="2.0" fill="#fd8d3c"/><rect x="1631.51" y="1472.6" width="28.6" height="23.0" fill="#feb24c"/><rect x="1631.51" y="1463.2" width="28.6" height="9.4" fill="#fdd976"/><rect x="1631.51" y="1455.6" width="28.6" height="7.6" fill="#fdde7b"/><rect x="1663.97" y="1526.1" width="28.6" height="2.1" fill="#fdde7b"/><rect x="1663.97" y="1523.6" width="28.6" height="2.5" fill="#800026"/><rect x="1663.97" y="1502.6" width="28.6" height="21.0" fill="#bd0026"/><rect x="1663.97" y="1465.6" width="28.6" height="37.0" fill="#e31a1c"/><rect x="1663.97" y="1438.1" width="28.6" height="27.5" fill="#fc4e2a"/><rect x="1663.97" y="1412.6" width="28.6" height="25.5" fill="#fd8d3c"/><rect x="1663.97" y="1387.6" width="28.6" height="25.0" fill="#feb24c"/><rect x="1663.97" y="1367.2" width="28.6" height="20.3" fill="#fdd976"/><rect x="1663.97" y="1350.6" width="28.6" height="16.7" fill="#fdde7b"/><rect x="1696.42" y="1507.6" width="28.6" height="20.6" fill="#fdde7b"/><rect x="1696.42" y="1505.6" width="28.6" height="2.0" fill="#800026"/><rect x="1696.42" y="1490.6" width="28.6" height="15.0" fill="#bd0026"/><rect x="1696.42" y="1475.6" width="28.6" height="15.0" fill="#e31a1c"/><rect x="1696.42" y="1435.6" width="28.6" height="40.0" fill="#fc4e2a"/><rect x="1696.42" y="1395.6" width="28.6" height="40.0" fill="#fd8d3c"/><rect x="1696.42" y="1377.6" width="28.6" height="18.0" fill="#feb24c"/><rect x="1696.42" y="1355.6" width="28.6" height="22.0" fill="#fdd976"/><rect x="1696.42" y="1337.6" width="28.6" height="18.0" fill="#fdde7b"/><rect x="1728.88" y="1510.6" width="28.6" height="17.6" fill="#fdde7b"/><rect x="1728.88" y="1497.6" width="28.6" height="13.0" fill="#bd0026"/><rect x="1728.88" y="1487.6" width="28.6" height="10.0" fill="#e31a1c"/><rect x="1728.88" y="1475.6" width="28.6" height="12.0" fill="#fc4e2a"/><rect x="1728.88" y="1462.6" width="28.6" height="13.0" fill="#fd8d3c"/><rect x="1728.88" y="1455.6" width="28.6" height="7.0" fill="#feb24c"/><rect x="1728.88" y="1444.6" width="28.6" height="11.0" fill="#fdd976"/><rect x="1728.88" y="1435.6" width="28.6" height="9.0" fill="#fdde7b"/><rect x="1761.34" y="1518.1" width="28.6" height="10.1" fill="#fdde7b"/><rect x="1761.34" y="1507.6" width="28.6" height="10.5" fill="#800026"/><rect x="1761.34" y="1502.6" width="28.6" height="5.0" fill="#bd0026"/><rect x="1761.34" y="1493.1" width="28.6" height="9.5" fill="#e31a1c"/><rect x="1761.34" y="1475.6" width="28.6" height="17.5" fill="#fc4e2a"/><rect x="1761.34" y="1465.6" width="28.6" height="10.0" fill="#fd8d3c"/><rect x="1761.34" y="1463.6" width="28.6" height="2.0" fill="#feb24c"/><rect x="1761.34" y="1451.0" width="28.6" height="12.7" fill="#fdd976"/><rect x="1761.34" y="1440.6" width="28.6" height="10.3" fill="#fdde7b"/><rect x="1793.79" y="1510.6" width="28.6" height="17.6" fill="#fdde7b"/><rect x="1793.79" y="1507.6" width="28.6" height="3.0" fill="#800026"/><rect x="1793.79" y="1497.6" width="28.6" height="10.0" fill="#bd0026"/><rect x="1793.79" y="1487.6" width="28.6" height="10.0" fill="#e31a1c"/><rect x="1793.79" y="1483.1" width="28.6" height="4.5" fill="#fc4e2a"/><rect x="1793.79" y="1475.6" width="28.6" height="7.5" fill="#fd8d3c"/><rect x="1793.79" y="1472.6" width="28.6" height="3.0" fill="#feb24c"/><rect x="1793.79" y="1457.8" width="28.6" height="14.9" fill="#fdd976"/><rect x="1793.79" y="1445.6" width="28.6" height="12.1" fill="#fdde7b"/><rect x="1826.25" y="1518.1" width="28.6" height="10.1" fill="#fdde7b"/><rect x="1826.25" y="1512.6" width="28.6" height="5.5" fill="#800026"/><rect x="1826.25" y="1495.6" width="28.6" height="17.0" fill="#bd0026"/><rect x="1826.25" y="1472.6" width="28.6" height="23.0" fill="#e31a1c"/><rect x="1826.25" y="1468.1" width="28.6" height="4.5" fill="#fc4e2a"/><rect x="1826.25" y="1460.6" width="28.6" height="7.5" fill="#fd8d3c"/><rect x="1826.25" y="1439.7" width="28.6" height="20.9" fill="#fdd976"/><rect x="1826.25" y="1422.6" width="28.6" height="17.1" fill="#fdde7b"/><rect x="1858.70" y="1518.1" width="28.6" height="10.1" fill="#fdde7b"/><rect x="1858.70" y="1505.6" width="28.6" height="12.5" fill="#800026"/><rect x="1858.70" y="1478.1" width="28.6" height="27.5" fill="#bd0026"/><rect x="1858.70" y="1450.6" width="28.6" height="27.5" fill="#e31a1c"/><rect x="1858.70" y="1438.1" width="28.6" height="12.5" fill="#fc4e2a"/><rect x="1858.70" y="1430.6" width="28.6" height="7.5" fill="#fd8d3c"/><rect x="1858.70" y="1420.6" width="28.6" height="10.0" fill="#feb24c"/><rect x="1858.70" y="1390.4" width="28.6" height="30.2" fill="#fdd976"/><rect x="1858.70" y="1365.6" width="28.6" height="24.8" fill="#fdde7b"/><rect x="1891.16" y="1518.1" width="28.6" height="10.1" fill="#fdde7b"/><rect x="1891.16" y="1497.6" width="28.6" height="20.5" fill="#800026"/><rect x="1891.16" y="1470.6" width="28.6" height="27.0" fill="#bd0026"/><rect x="1891.16" y="1443.1" width="28.6" height="27.5" fill="#e31a1c"/><rect x="1891.16" y="1422.6" width="28.6" height="20.5" fill="#fc4e2a"/><rect x="1891.16" y="1400.6" width="28.6" height="22.0" fill="#fd8d3c"/><rect x="1891.16" y="1385.6" width="28.6" height="15.0" fill="#feb24c"/><rect x="1891.16" y="1351.0" width="28.6" height="34.7" fill="#fdd976"/><rect x="1891.16" y="1322.6" width="28.6" height="28.3" fill="#fdde7b"/><rect x="1923.62" y="1505.6" width="28.6" height="22.6" fill="#fdde7b"/><rect x="1923.62" y="1495.6" width="28.6" height="10.0" fill="#800026"/><rect x="1923.62" y="1472.6" width="28.6" height="23.0" fill="#bd0026"/><rect x="1923.62" y="1432.6" width="28.6" height="40.0" fill="#e31a1c"/><rect x="1923.62" y="1410.6" width="28.6" height="22.0" fill="#fc4e2a"/><rect x="1923.62" y="1385.6" width="28.6" height="25.0" fill="#fd8d3c"/><rect x="1923.62" y="1367.6" width="28.6" height="18.0" fill="#feb24c"/><rect x="1923.62" y="1329.1" width="28.6" height="38.5" fill="#fdd976"/><rect x="1923.62" y="1297.6" width="28.6" height="31.5" fill="#fdde7b"/><rect x="1956.07" y="1505.6" width="28.6" height="22.6" fill="#fdde7b"/><rect x="1956.07" y="1497.6" width="28.6" height="8.0" fill="#800026"/><rect x="1956.07" y="1470.6" width="28.6" height="27.0" fill="#bd0026"/><rect x="1956.07" y="1427.6" width="28.6" height="43.0" fill="#e31a1c"/><rect x="1956.07" y="1397.6" width="28.6" height="30.0" fill="#fc4e2a"/><rect x="1956.07" y="1365.6" width="28.6" height="32.0" fill="#fd8d3c"/><rect x="1956.07" y="1337.6" width="28.6" height="28.0" fill="#feb24c"/><rect x="1956.07" y="1298.0" width="28.6" height="39.6" fill="#fdd976"/><rect x="1956.07" y="1265.6" width="28.6" height="32.4" fill="#fdde7b"/><rect x="1988.53" y="1495.6" width="28.6" height="32.6" fill="#fdde7b"/><rect x="1988.53" y="1486.1" width="28.6" height="9.5" fill="#800026"/><rect x="1988.53" y="1438.1" width="28.6" height="48.0" fill="#bd0026"/><rect x="1988.53" y="1372.6" width="28.6" height="65.5" fill="#e31a1c"/><rect x="1988.53" y="1327.6" width="28.6" height="45.0" fill="#fc4e2a"/><rect x="1988.53" y="1285.6" width="28.6" height="42.0" fill="#fd8d3c"/><rect x="1988.53" y="1231.6" width="28.6" height="54.0" fill="#feb24c"/><rect x="1988.53" y="1190.3" width="28.6" height="41.3" fill="#fdd976"/><rect x="1988.53" y="1145.3" width="28.6" height="45.0" fill="#fdde7b"/><rect x="2020.98" y="1483.1" width="28.6" height="45.1" fill="#fdde7b"/><rect x="2020.98" y="1478.1" width="28.6" height="5.0" fill="#800026"/><rect x="2020.98" y="1430.6" width="28.6" height="47.5" fill="#bd0026"/><rect x="2020.98" y="1375.6" width="28.6" height="55.0" fill="#e31a1c"/><rect x="2020.98" y="1337.6" width="28.6" height="38.0" fill="#fc4e2a"/><rect x="2020.98" y="1295.6" width="28.6" height="42.0" fill="#fd8d3c"/><rect x="2020.98" y="1246.6" width="28.6" height="49.0" fill="#feb24c"/><rect x="2020.98" y="1215.3" width="28.6" height="31.3" fill="#fdd976"/><rect x="2020.98" y="1175.3" width="28.6" height="40.0" fill="#fdde7b"/><rect x="2053.44" y="1455.6" width="28.6" height="72.6" fill="#fdde7b"/><rect x="2053.44" y="1445.6" width="28.6" height="10.0" fill="#800026"/><rect x="2053.44" y="1405.6" width="28.6" height="40.0" fill="#bd0026"/><rect x="2053.44" y="1350.6" width="28.6" height="55.0" fill="#e31a1c"/><rect x="2053.44" y="1310.6" width="28.6" height="40.0" fill="#fc4e2a"/><rect x="2053.44" y="1270.6" width="28.6" height="40.0" fill="#fd8d3c"/><rect x="2053.44" y="1242.1" width="28.6" height="28.5" fill="#feb24c"/><rect x="2053.44" y="1210.3" width="28.6" height="31.8" fill="#fdd976"/><rect x="2053.44" y="1167.8" width="28.6" height="42.5" fill="#fdde7b"/><rect x="2085.90" y="1480.6" width="28.6" height="47.6" fill="#fdde7b"/><rect x="2085.90" y="1468.1" width="28.6" height="12.5" fill="#800026"/><rect x="2085.90" y="1427.6" width="28.6" height="40.5" fill="#bd0026"/><rect x="2085.90" y="1370.6" width="28.6" height="57.0" fill="#e31a1c"/><rect x="2085.90" y="1327.6" width="28.6" height="43.0" fill="#fc4e2a"/><rect x="2085.90" y="1282.6" width="28.6" height="45.0" fill="#fd8d3c"/><rect x="2085.90" y="1256.6" width="28.6" height="26.0" fill="#feb24c"/><rect x="2085.90" y="1231.6" width="28.6" height="25.0" fill="#fdd976"/><rect x="2085.90" y="1177.8" width="28.6" height="53.8" fill="#fdde7b"/><rect x="2118.35" y="1362.6" width="28.6" height="165.6" fill="#fdde7b"/><rect x="2118.35" y="1347.6" width="28.6" height="15.0" fill="#800026"/><rect x="2118.35" y="1305.6" width="28.6" height="42.0" fill="#bd0026"/><rect x="2118.35" y="1246.6" width="28.6" height="59.0" fill="#e31a1c"/><rect x="2118.35" y="1212.3" width="28.6" height="34.3" fill="#fc4e2a"/><rect x="2118.35" y="1172.3" width="28.6" height="40.0" fill="#fd8d3c"/><rect x="2118.35" y="1125.3" width="28.6" height="47.0" fill="#feb24c"/><rect x="2118.35" y="1093.3" width="28.6" height="32.0" fill="#fdd976"/><rect x="2118.35" y="1045.3" width="28.6" height="48.0" fill="#fdde7b"/><rect x="2150.81" y="1345.6" width="28.6" height="182.6" fill="#fdde7b"/><rect x="2150.81" y="1342.6" width="28.6" height="3.0" fill="#800026"/><rect x="2150.81" y="1295.6" width="28.6" height="47.0" fill="#bd0026"/><rect x="2150.81" y="1234.6" width="28.6" height="61.0" fill="#e31a1c"/><rect x="2150.81" y="1192.8" width="28.6" height="41.8" fill="#fc4e2a"/><rect x="2150.81" y="1150.3" width="28.6" height="42.5" fill="#fd8d3c"/><rect x="2150.81" y="1120.8" width="28.6" height="29.5" fill="#feb24c"/><rect x="2150.81" y="1095.3" width="28.6" height="25.5" fill="#fdd976"/><rect x="2150.81" y="1055.3" width="28.6" height="40.0" fill="#fdde7b"/><rect x="2183.26" y="1438.1" width="28.6" height="90.1" fill="#fdde7b"/><rect x="2183.26" y="1422.6" width="28.6" height="15.5" fill="#800026"/><rect x="2183.26" y="1372.6" width="28.6" height="50.0" fill="#bd0026"/><rect x="2183.26" y="1315.6" width="28.6" height="57.0" fill="#e31a1c"/><rect x="2183.26" y="1265.6" width="28.6" height="50.0" fill="#fc4e2a"/><rect x="2183.26" y="1217.8" width="28.6" height="47.8" fill="#fd8d3c"/><rect x="2183.26" y="1177.8" width="28.6" height="40.0" fill="#feb24c"/><rect x="2183.26" y="1150.3" width="28.6" height="27.5" fill="#fdd976"/><rect x="2183.26" y="1132.8" width="28.6" height="17.5" fill="#fdde7b"/><rect x="2215.72" y="1438.1" width="28.6" height="90.1" fill="#fdde7b"/><rect x="2215.72" y="1435.6" width="28.6" height="2.5" fill="#800026"/><rect x="2215.72" y="1397.6" width="28.6" height="38.0" fill="#bd0026"/><rect x="2215.72" y="1337.6" width="28.6" height="60.0" fill="#e31a1c"/><rect x="2215.72" y="1277.6" width="28.6" height="60.0" fill="#fc4e2a"/><rect x="2215.72" y="1220.3" width="28.6" height="57.3" fill="#fd8d3c"/><rect x="2215.72" y="1175.3" width="28.6" height="45.0" fill="#feb24c"/><rect x="2215.72" y="1125.3" width="28.6" height="50.0" fill="#fdd976"/><rect x="2215.72" y="1100.3" width="28.6" height="25.0" fill="#fdde7b"/><rect x="2248.18" y="1490.6" width="28.6" height="37.6" fill="#fdde7b"/><rect x="2248.18" y="1488.6" width="28.6" height="2.0" fill="#800026"/><rect x="2248.18" y="1468.1" width="28.6" height="20.5" fill="#bd0026"/><rect x="2248.18" y="1400.6" width="28.6" height="67.5" fill="#e31a1c"/><rect x="2248.18" y="1340.6" width="28.6" height="60.0" fill="#fc4e2a"/><rect x="2248.18" y="1280.6" width="28.6" height="60.0" fill="#fd8d3c"/><rect x="2248.18" y="1227.8" width="28.6" height="52.8" fill="#feb24c"/><rect x="2248.18" y="1180.3" width="28.6" height="47.5" fill="#fdd976"/><rect x="2248.18" y="1132.8" width="28.6" height="47.5" fill="#fdde7b"/><rect x="2280.63" y="1510.6" width="28.6" height="17.6" fill="#fdde7b"/><rect x="2280.63" y="1497.6" width="28.6" height="13.0" fill="#800026"/><rect x="2280.63" y="1478.1" width="28.6" height="19.5" fill="#bd0026"/><rect x="2280.63" y="1420.6" width="28.6" height="57.5" fill="#e31a1c"/><rect x="2280.63" y="1370.6" width="28.6" height="50.0" fill="#fc4e2a"/><rect x="2280.63" y="1317.6" width="28.6" height="53.0" fill="#fd8d3c"/><rect x="2280.63" y="1265.6" width="28.6" height="52.0" fill="#feb24c"/><rect x="2280.63" y="1248.6" width="28.6" height="17.0" fill="#fdd976"/><rect x="2280.63" y="1205.3" width="28.6" height="43.3" fill="#fdde7b"/><rect x="2313.09" y="1518.1" width="28.6" height="10.1" fill="#fdde7b"/><rect x="2313.09" y="1502.6" width="28.6" height="15.5" fill="#800026"/><rect x="2313.09" y="1478.1" width="28.6" height="24.5" fill="#bd0026"/><rect x="2313.09" y="1425.6" width="28.6" height="52.5" fill="#e31a1c"/><rect x="2313.09" y="1397.6" width="28.6" height="28.0" fill="#fc4e2a"/><rect x="2313.09" y="1362.6" width="28.6" height="35.0" fill="#fd8d3c"/><rect x="2313.09" y="1332.6" width="28.6" height="30.0" fill="#feb24c"/><rect x="2313.09" y="1293.1" width="28.6" height="39.5" fill="#fdd976"/><rect x="2313.09" y="1239.6" width="28.6" height="53.5" fill="#fdde7b"/><rect x="2345.54" y="1500.6" width="28.6" height="27.6" fill="#fdde7b"/><rect x="2345.54" y="1490.6" width="28.6" height="10.0" fill="#800026"/><rect x="2345.54" y="1447.6" width="28.6" height="43.0" fill="#bd0026"/><rect x="2345.54" y="1390.6" width="28.6" height="57.0" fill="#e31a1c"/><rect x="2345.54" y="1372.6" width="28.6" height="18.0" fill="#fc4e2a"/><rect x="2345.54" y="1352.6" width="28.6" height="20.0" fill="#fd8d3c"/><rect x="2345.54" y="1332.6" width="28.6" height="20.0" fill="#feb24c"/><rect x="2345.54" y="1315.6" width="28.6" height="17.0" fill="#fdd976"/><rect x="2345.54" y="1262.6" width="28.6" height="53.0" fill="#fdde7b"/><rect x="2378.00" y="1502.6" width="28.6" height="25.6" fill="#fdde7b"/><rect x="2378.00" y="1490.6" width="28.6" height="12.0" fill="#800026"/><rect x="2378.00" y="1450.6" width="28.6" height="40.0" fill="#bd0026"/><rect x="2378.00" y="1400.6" width="28.6" height="50.0" fill="#e31a1c"/><rect x="2378.00" y="1387.6" width="28.6" height="13.0" fill="#fc4e2a"/><rect x="2378.00" y="1377.6" width="28.6" height="10.0" fill="#fd8d3c"/><rect x="2378.00" y="1350.6" width="28.6" height="27.0" fill="#feb24c"/><rect x="2378.00" y="1332.6" width="28.6" height="18.0" fill="#fdd976"/><rect x="2378.00" y="1277.6" width="28.6" height="55.0" fill="#fdde7b"/><rect x="2410.46" y="1472.6" width="28.6" height="55.6" fill="#fdde7b"/><rect x="2410.46" y="1462.6" width="28.6" height="10.0" fill="#800026"/><rect x="2410.46" y="1417.6" width="28.6" height="45.0" fill="#bd0026"/><rect x="2410.46" y="1375.6" width="28.6" height="42.0" fill="#e31a1c"/><rect x="2410.46" y="1345.6" width="28.6" height="30.0" fill="#fc4e2a"/><rect x="2410.46" y="1317.6" width="28.6" height="28.0" fill="#fd8d3c"/><rect x="2410.46" y="1305.6" width="28.6" height="12.0" fill="#feb24c"/><rect x="2410.46" y="1248.6" width="28.6" height="57.0" fill="#fdd976"/><rect x="2410.46" y="1190.3" width="28.6" height="58.3" fill="#fdde7b"/><rect x="2442.91" y="1468.1" width="28.6" height="60.1" fill="#fdde7b"/><rect x="2442.91" y="1465.6" width="28.6" height="2.5" fill="#800026"/><rect x="2442.91" y="1417.6" width="28.6" height="48.0" fill="#bd0026"/><rect x="2442.91" y="1360.6" width="28.6" height="57.0" fill="#e31a1c"/><rect x="2442.91" y="1312.6" width="28.6" height="48.0" fill="#fc4e2a"/><rect x="2442.91" y="1262.6" width="28.6" height="50.0" fill="#fd8d3c"/><rect x="2442.91" y="1250.6" width="28.6" height="12.0" fill="#feb24c"/><rect x="2442.91" y="1205.3" width="28.6" height="45.3" fill="#fdd976"/><rect x="2442.91" y="1145.3" width="28.6" height="60.0" fill="#fdde7b"/><rect x="2475.37" y="1470.6" width="28.6" height="57.6" fill="#fdde7b"/><rect x="2475.37" y="1445.6" width="28.6" height="25.0" fill="#800026"/><rect x="2475.37" y="1392.6" width="28.6" height="53.0" fill="#bd0026"/><rect x="2475.37" y="1332.6" width="28.6" height="60.0" fill="#e31a1c"/><rect x="2475.37" y="1282.6" width="28.6" height="50.0" fill="#fc4e2a"/><rect x="2475.37" y="1222.8" width="28.6" height="59.8" fill="#fd8d3c"/><rect x="2475.37" y="1172.3" width="28.6" height="50.5" fill="#feb24c"/><rect x="2475.37" y="1140.3" width="28.6" height="32.0" fill="#fdd976"/><rect x="2475.37" y="1087.8" width="28.6" height="52.5" fill="#fdde7b"/><rect x="2507.82" y="1510.6" width="28.6" height="17.6" fill="#fdde7b"/><rect x="2507.82" y="1487.6" width="28.6" height="23.0" fill="#800026"/><rect x="2507.82" y="1462.6" width="28.6" height="25.0" fill="#bd0026"/><rect x="2507.82" y="1422.6" width="28.6" height="40.0" fill="#e31a1c"/><rect x="2507.82" y="1380.6" width="28.6" height="42.0" fill="#fc4e2a"/><rect x="2507.82" y="1342.6" width="28.6" height="38.0" fill="#fd8d3c"/><rect x="2507.82" y="1317.6" width="28.6" height="25.0" fill="#feb24c"/><rect x="2507.82" y="1297.6" width="28.6" height="20.0" fill="#fdd976"/><rect x="2507.82" y="1275.6" width="28.6" height="22.0" fill="#fdde7b"/><rect x="2540.28" y="1505.6" width="28.6" height="22.6" fill="#fdde7b"/><rect x="2540.28" y="1490.6" width="28.6" height="15.0" fill="#800026"/><rect x="2540.28" y="1470.6" width="28.6" height="20.0" fill="#bd0026"/><rect x="2540.28" y="1435.6" width="28.6" height="35.0" fill="#e31a1c"/><rect x="2540.28" y="1397.6" width="28.6" height="38.0" fill="#fc4e2a"/><rect x="2540.28" y="1360.6" width="28.6" height="37.0" fill="#fd8d3c"/><rect x="2540.28" y="1327.6" width="28.6" height="33.0" fill="#feb24c"/><rect x="2540.28" y="1305.6" width="28.6" height="22.0" fill="#fdd976"/><rect x="2540.28" y="1280.6" width="28.6" height="25.0" fill="#fdde7b"/><rect x="2572.74" y="1500.6" width="28.6" height="27.6" fill="#fdde7b"/><rect x="2572.74" y="1498.6" width="28.6" height="2.0" fill="#800026"/><rect x="2572.74" y="1475.6" width="28.6" height="23.0" fill="#bd0026"/><rect x="2572.74" y="1443.1" width="28.6" height="32.5" fill="#e31a1c"/><rect x="2572.74" y="1402.6" width="28.6" height="40.5" fill="#fc4e2a"/><rect x="2572.74" y="1360.6" width="28.6" height="42.0" fill="#fd8d3c"/><rect x="2572.74" y="1322.6" width="28.6" height="38.0" fill="#feb24c"/><rect x="2572.74" y="1292.6" width="28.6" height="30.0" fill="#fdd976"/><rect x="2572.74" y="1277.6" width="28.6" height="15.0" fill="#fdde7b"/><rect x="2605.19" y="1520.6" width="28.6" height="7.6" fill="#fdde7b"/><rect x="2605.19" y="1518.1" width="28.6" height="2.5" fill="#800026"/><rect x="2605.19" y="1512.6" width="28.6" height="5.5" fill="#bd0026"/><rect x="2605.19" y="1507.6" width="28.6" height="5.0" fill="#e31a1c"/><rect x="2605.19" y="1500.6" width="28.6" height="7.0" fill="#fc4e2a"/><rect x="2605.19" y="1493.1" width="28.6" height="7.5" fill="#fd8d3c"/><rect x="2605.19" y="1487.6" width="28.6" height="5.5" fill="#feb24c"/><rect x="2605.19" y="1486.5" width="28.6" height="1.1" fill="#fdd976"/><rect x="2605.19" y="1485.6" width="28.6" height="0.9" fill="#fdde7b"/><path d="M755.20,1525.6h28.6M755.20,1520.6h28.6M755.20,1511.1h28.6M755.20,1505.6h28.6M755.20,1497.6h28.6M755.20,1487.6h28.6M755.20,1483.8h28.6M787.66,1525.6h28.6M787.66,1520.1h28.6M787.66,1511.1h28.6M787.66,1497.6h28.6M787.66,1490.6h28.6M787.66,1486.5h28.6M820.11,1515.1h28.6M820.11,1513.6h28.6M820.11,1509.6h28.6M820.11,1502.6h28.6M820.11,1493.1h28.6M820.11,1487.6h28.6M820.11,1483.1h28.6M820.11,1477.3h28.6M852.57,1515.1h28.6M852.57,1513.6h28.6M852.57,1507.6h28.6M852.57,1490.6h28.6M852.57,1478.1h28.6M852.57,1462.6h28.6M852.57,1447.6h28.6M852.57,1439.4h28.6M885.02,1526.6h28.6M885.02,1525.1h28.6M885.02,1522.6h28.6M885.02,1521.6h28.6M885.02,1520.6h28.6M885.02,1516.2h28.6M917.48,1515.1h28.6M917.48,1513.6h28.6M917.48,1505.6h28.6M917.48,1500.6h28.6M917.48,1496.5h28.6M949.94,1517.6h28.6M949.94,1515.1h28.6M949.94,1497.6h28.6M949.94,1487.6h28.6M949.94,1480.1h28.6M949.94,1472.6h28.6M949.94,1468.5h28.6M982.39,1525.1h28.6M982.39,1522.6h28.6M982.39,1520.6h28.6M982.39,1512.6h28.6M982.39,1500.6h28.6M982.39,1490.6h28.6M982.39,1480.7h28.6M1014.85,1522.6h28.6M1014.85,1517.6h28.6M1014.85,1512.6h28.6M1014.85,1505.6h28.6M1014.85,1503.6h28.6M1014.85,1499.2h28.6M1047.30,1520.6h28.6M1047.30,1515.1h28.6M1047.30,1512.6h28.6M1047.30,1497.6h28.6M1079.76,1522.6h28.6M1079.76,1520.6h28.6M1079.76,1517.6h28.6M1079.76,1515.1h28.6M1079.76,1502.6h28.6M1079.76,1486.1h28.6M1079.76,1484.1h28.6M1079.76,1477.8h28.6M1112.22,1515.1h28.6M1112.22,1513.6h28.6M1112.22,1502.6h28.6M1112.22,1495.6h28.6M1112.22,1490.6h28.6M1112.22,1478.1h28.6M1112.22,1468.5h28.6M1144.67,1520.6h28.6M1144.67,1518.1h28.6M1144.67,1502.6h28.6M1144.67,1493.1h28.6M1144.67,1490.1h28.6M1177.13,1522.6h28.6M1177.13,1520.6h28.6M1177.13,1512.6h28.6M1177.13,1510.6h28.6M1177.13,1507.6h28.6M1177.13,1500.6h28.6M1177.13,1496.5h28.6M1209.58,1520.6h28.6M1209.58,1515.1h28.6M1209.58,1512.6h28.6M1209.58,1495.6h28.6M1209.58,1483.1h28.6M1209.58,1468.1h28.6M1209.58,1457.6h28.6M1209.58,1455.1h28.6M1242.04,1522.6h28.6M1242.04,1520.6h28.6M1242.04,1512.6h28.6M1242.04,1505.6h28.6M1242.04,1502.6h28.6M1242.04,1500.6h28.6M1242.04,1493.1h28.6M1242.04,1487.6h28.6M1274.50,1520.6h28.6M1274.50,1518.1h28.6M1274.50,1515.6h28.6M1274.50,1510.1h28.6M1306.95,1522.6h28.6M1306.95,1520.6h28.6M1306.95,1518.1h28.6M1306.95,1505.6h28.6M1306.95,1497.6h28.6M1306.95,1487.6h28.6M1306.95,1483.1h28.6M1306.95,1479.0h28.6M1339.41,1518.1h28.6M1339.41,1495.6h28.6M1339.41,1486.1h28.6M1339.41,1478.1h28.6M1339.41,1468.1h28.6M1339.41,1465.6h28.6M1339.41,1453.2h28.6M1371.86,1520.6h28.6M1371.86,1518.1h28.6M1371.86,1512.6h28.6M1371.86,1475.6h28.6M1371.86,1468.1h28.6M1371.86,1465.6h28.6M1371.86,1457.4h28.6M1404.32,1525.6h28.6M1404.32,1512.6h28.6M1404.32,1490.6h28.6M1404.32,1480.6h28.6M1404.32,1465.6h28.6M1404.32,1462.6h28.6M1404.32,1445.0h28.6M1436.78,1490.6h28.6M1436.78,1487.6h28.6M1436.78,1478.1h28.6M1436.78,1468.1h28.6M1436.78,1435.6h28.6M1436.78,1397.6h28.6M1436.78,1385.6h28.6M1436.78,1374.6h28.6M1469.23,1520.6h28.6M1469.23,1512.6h28.6M1469.23,1475.6h28.6M1469.23,1468.1h28.6M1469.23,1462.6h28.6M1469.23,1450.6h28.6M1469.23,1443.7h28.6M1501.69,1518.1h28.6M1501.69,1510.6h28.6M1501.69,1487.6h28.6M1501.69,1470.6h28.6M1501.69,1468.1h28.6M1501.69,1465.6h28.6M1501.69,1460.6h28.6M1501.69,1439.7h28.6M1534.14,1487.6h28.6M1534.14,1483.1h28.6M1534.14,1468.1h28.6M1534.14,1445.6h28.6M1534.14,1415.6h28.6M1534.14,1382.6h28.6M1534.14,1342.6h28.6M1534.14,1331.6h28.6M1566.60,1522.6h28.6M1566.60,1518.1h28.6M1566.60,1497.6h28.6M1566.60,1457.6h28.6M1566.60,1422.6h28.6M1566.60,1385.6h28.6M1566.60,1370.6h28.6M1566.60,1349.7h28.6M1599.06,1510.6h28.6M1599.06,1493.1h28.6M1599.06,1486.1h28.6M1599.06,1480.6h28.6M1599.06,1478.1h28.6M1599.06,1464.4h28.6M1631.51,1525.6h28.6M1631.51,1522.6h28.6M1631.51,1502.6h28.6M1631.51,1497.6h28.6M1631.51,1495.6h28.6M1631.51,1472.6h28.6M1631.51,1463.2h28.6M1663.97,1526.1h28.6M1663.97,1523.6h28.6M1663.97,1502.6h28.6M1663.97,1465.6h28.6M1663.97,1438.1h28.6M1663.97,1412.6h28.6M1663.97,1387.6h28.6M1663.97,1367.2h28.6M1696.42,1507.6h28.6M1696.42,1505.6h28.6M1696.42,1490.6h28.6M1696.42,1475.6h28.6M1696.42,1435.6h28.6M1696.42,1395.6h28.6M1696.42,1377.6h28.6M1696.42,1355.6h28.6M1728.88,1510.6h28.6M1728.88,1497.6h28.6M1728.88,1487.6h28.6M1728.88,1475.6h28.6M1728.88,1462.6h28.6M1728.88,1455.6h28.6M1728.88,1444.6h28.6M1761.34,1518.1h28.6M1761.34,1507.6h28.6M1761.34,1502.6h28.6M1761.34,1493.1h28.6M1761.34,1475.6h28.6M1761.34,1465.6h28.6M1761.34,1463.6h28.6M1761.34,1451.0h28.6M1793.79,1510.6h28.6M1793.79,1507.6h28.6M1793.79,1497.6h28.6M1793.79,1487.6h28.6M1793.79,1483.1h28.6M1793.79,1475.6h28.6M1793.79,1472.6h28.6M1793.79,1457.8h28.6M1826.25,1518.1h28.6M1826.25,1512.6h28.6M1826.25,1495.6h28.6M1826.25,1472.6h28.6M1826.25,1468.1h28.6M1826.25,1460.6h28.6M1826.25,1439.7h28.6M1858.70,1518.1h28.6M1858.70,1505.6h28.6M1858.70,1478.1h28.6M1858.70,1450.6h28.6M1858.70,1438.1h28.6M1858.70,1430.6h28.6M1858.70,1420.6h28.6M1858.70,1390.4h28.6M1891.16,1518.1h28.6M1891.16,1497.6h28.6M1891.16,1470.6h28.6M1891.16,1443.1h28.6M1891.16,1422.6h28.6M1891.16,1400.6h28.6M1891.16,1385.6h28.6M1891.16,1351.0h28.6M1923.62,1505.6h28.6M1923.62,1495.6h28.6M1923.62,1472.6h28.6M1923.62,1432.6h28.6M1923.62,1410.6h28.6M1923.62,1385.6h28.6M1923.62,1367.6h28.6M1923.62,1329.1h28.6M1956.07,1505.6h28.6M1956.07,1497.6h28.6M1956.07,1470.6h28.6M1956.07,1427.6h28.6M1956.07,1397.6h28.6M1956.07,1365.6h28.6M1956.07,1337.6h28.6M1956.07,1298.0h28.6M1988.53,1495.6h28.6M1988.53,1486.1h28.6M1988.53,1438.1h28.6M1988.53,1372.6h28.6M1988.53,1327.6h28.6M1988.53,1285.6h28.6M1988.53,1231.6h28.6M1988.53,1190.3h28.6M2020.98,1483.1h28.6M2020.98,1478.1h28.6M2020.98,1430.6h28.6M2020.98,1375.6h28.6M2020.98,1337.6h28.6M2020.98,1295.6h28.6M2020.98,1246.6h28.6M2020.98,1215.3h28.6M2053.44,1455.6h28.6M2053.44,1445.6h28.6M2053.44,1405.6h28.6M2053.44,1350.6h28.6M2053.44,1310.6h28.6M2053.44,1270.6h28.6M2053.44,1242.1h28.6M2053.44,1210.3h28.6M2085.90,1480.6h28.6M2085.90,1468.1h28.6M2085.90,1427.6h28.6M2085.90,1370.6h28.6M2085.90,1327.6h28.6M2085.90,1282.6h28.6M2085.90,1256.6h28.6M2085.90,1231.6h28.6M2118.35,1362.6h28.6M2118.35,1347.6h28.6M2118.35,1305.6h28.6M2118.35,1246.6h28.6M2118.35,1212.3h28.6M2118.35,1172.3h28.6M2118.35,1125.3h28.6M2118.35,1093.3h28.6M2150.81,1345.6h28.6M2150.81,1342.6h28.6M2150.81,1295.6h28.6M2150.81,1234.6h28.6M2150.81,1192.8h28.6M2150.81,1150.3h28.6M2150.81,1120.8h28.6M2150.81,1095.3h28.6M2183.26,1438.1h28.6M2183.26,1422.6h28.6M2183.26,1372.6h28.6M2183.26,1315.6h28.6M2183.26,1265.6h28.6M2183.26,1217.8h28.6M2183.26,1177.8h28.6M2183.26,1150.3h28.6M2215.72,1438.1h28.6M2215.72,1435.6h28.6M2215.72,1397.6h28.6M2215.72,1337.6h28.6M2215.72,1277.6h28.6M2215.72,1220.3h28.6M2215.72,1175.3h28.6M2215.72,1125.3h28.6M2248.18,1490.6h28.6M2248.18,1488.6h28.6M2248.18,1468.1h28.6M2248.18,1400.6h28.6M2248.18,1340.6h28.6M2248.18,1280.6h28.6M2248.18,1227.8h28.6M2248.18,1180.3h28.6M2280.63,1510.6h28.6M2280.63,1497.6h28.6M2280.63,1478.1h28.6M2280.63,1420.6h28.6M2280.63,1370.6h28.6M2280.63,1317.6h28.6M2280.63,1265.6h28.6M2280.63,1248.6h28.6M2313.09,1518.1h28.6M2313.09,1502.6h28.6M2313.09,1478.1h28.6M2313.09,1425.6h28.6M2313.09,1397.6h28.6M2313.09,1362.6h28.6M2313.09,1332.6h28.6M2313.09,1293.1h28.6M2345.54,1500.6h28.6M2345.54,1490.6h28.6M2345.54,1447.6h28.6M2345.54,1390.6h28.6M2345.54,1372.6h28.6M2345.54,1352.6h28.6M2345.54,1332.6h28.6M2345.54,1315.6h28.6M2378.00,1502.6h28.6M2378.00,1490.6h28.6M2378.00,1450.6h28.6M2378.00,1400.6h28.6M2378.00,1387.6h28.6M2378.00,1377.6h28.6M2378.00,1350.6h28.6M2378.00,1332.6h28.6M2410.46,1472.6h28.6M2410.46,1462.6h28.6M2410.46,1417.6h28.6M2410.46,1375.6h28.6M2410.46,1345.6h28.6M2410.46,1317.6h28.6M2410.46,1305.6h28.6M2410.46,1248.6h28.6M2442.91,1468.1h28.6M2442.91,1465.6h28.6M2442.91,1417.6h28.6M2442.91,1360.6h28.6M2442.91,1312.6h28.6M2442.91,1262.6h28.6M2442.91,1250.6h28.6M2442.91,1205.3h28.6M2475.37,1470.6h28.6M2475.37,1445.6h28.6M2475.37,1392.6h28.6M2475.37,1332.6h28.6M2475.37,1282.6h28.6M2475.37,1222.8h28.6M2475.37,1172.3h28.6M2475.37,1140.3h28.6M2507.82,1510.6h28.6M2507.82,1487.6h28.6M2507.82,1462.6h28.6M2507.82,1422.6h28.6M2507.82,1380.6h28.6M2507.82,1342.6h28.6M2507.82,1317.6h28.6M2507.82,1297.6h28.6M2540.28,1505.6h28.6M2540.28,1490.6h28.6M2540.28,1470.6h28.6M2540.28,1435.6h28.6M2540.28,1397.6h28.6M2540.28,1360.6h28.6M2540.28,1327.6h28.6M2540.28,1305.6h28.6M2572.74,1500.6h28.6M2572.74,1498.6h28.6M2572.74,1475.6h28.6M2572.74,1443.1h28.6M2572.74,1402.6h28.6M2572.74,1360.6h28.6M2572.74,1322.6h28.6M2572.74,1292.6h28.6M2605.19,1520.6h28.6M2605.19,1518.1h28.6M2605.19,1512.6h28.6M2605.19,1507.6h28.6M2605.19,1500.6h28.6M2605.19,1493.1h28.6M2605.19,1487.6h28.6" stroke="#fff" stroke-opacity="0.28" stroke-width="1" fill="none"/><rect x="755" y="1527.3" width="1881" height="2.6" fill="#6b738a" shape-rendering="auto"/><rect x="820.6" y="1529.5" width="2.5" height="11.2" fill="#6b738a" shape-rendering="auto"/><rect x="982.6" y="1529.5" width="2.5" height="11.2" fill="#6b738a" shape-rendering="auto"/><rect x="1145.6" y="1529.5" width="2.5" height="11.2" fill="#6b738a" shape-rendering="auto"/><rect x="1307.6" y="1529.5" width="2.5" height="11.2" fill="#6b738a" shape-rendering="auto"/><rect x="1469.6" y="1529.5" width="2.5" height="11.2" fill="#6b738a" shape-rendering="auto"/><rect x="1631.6" y="1529.5" width="2.5" height="11.2" fill="#6b738a" shape-rendering="auto"/><rect x="1794.6" y="1529.5" width="2.5" height="11.2" fill="#6b738a" shape-rendering="auto"/><rect x="1956.6" y="1529.5" width="2.5" height="11.2" fill="#6b738a" shape-rendering="auto"/><rect x="2118.6" y="1529.5" width="2.5" height="11.2" fill="#6b738a" shape-rendering="auto"/><rect x="2281.6" y="1529.5" width="2.5" height="11.2" fill="#6b738a" shape-rendering="auto"/><rect x="2443.6" y="1529.5" width="2.5" height="11.2" fill="#6b738a" shape-rendering="auto"/><rect x="2605.6" y="1529.5" width="2.5" height="11.2" fill="#6b738a" shape-rendering="auto"/></svg><span class="t" style="left:722.2px;top:1515.1px;font-size:25px;line-height:30.0px;color:#1c2b34;letter-spacing:0.700px;">0k</span><span class="t" style="left:699.9px;top:1455.1px;font-size:25px;line-height:30.0px;color:#1c2b34;letter-spacing:0.700px;">0.2k</span><span class="t" style="left:699.9px;top:1395.1px;font-size:25px;line-height:30.0px;color:#1c2b34;letter-spacing:0.700px;">0.4k</span><span class="t" style="left:699.9px;top:1335.1px;font-size:25px;line-height:30.0px;color:#1c2b34;letter-spacing:0.700px;">0.6k</span><span class="t" style="left:699.9px;top:1275.1px;font-size:25px;line-height:30.0px;color:#1c2b34;letter-spacing:0.700px;">0.8k</span><span class="t" style="left:722.2px;top:1215.1px;font-size:25px;line-height:30.0px;color:#1c2b34;letter-spacing:0.700px;">1k</span><span class="t" style="left:699.9px;top:1155.1px;font-size:25px;line-height:30.0px;color:#1c2b34;letter-spacing:0.700px;">1.2k</span><span class="t" style="left:699.9px;top:1095.1px;font-size:25px;line-height:30.0px;color:#1c2b34;letter-spacing:0.700px;">1.4k</span><span class="t" style="left:699.9px;top:1035.1px;font-size:25px;line-height:30.0px;color:#1c2b34;letter-spacing:0.700px;">1.6k</span><span class="t" style="left:699.9px;top:975.1px;font-size:25px;line-height:30.0px;color:#1c2b34;letter-spacing:0.700px;">1.8k</span><span class="t" style="left:722.2px;top:915.1px;font-size:25px;line-height:30.0px;color:#1c2b34;letter-spacing:0.700px;">2k</span><span class="t" style="left:789.7px;top:1542.7px;font-size:25px;line-height:30.0px;color:#1c2b34;letter-spacing:0.500px;">18:05</span><span class="t" style="left:951.9px;top:1542.7px;font-size:25px;line-height:30.0px;color:#1c2b34;letter-spacing:0.500px;">18:10</span><span class="t" style="left:1114.2px;top:1542.7px;font-size:25px;line-height:30.0px;color:#1c2b34;letter-spacing:0.500px;">18:15</span><span class="t" style="left:1276.5px;top:1542.7px;font-size:25px;line-height:30.0px;color:#1c2b34;letter-spacing:0.500px;">18:20</span><span class="t" style="left:1438.8px;top:1542.7px;font-size:25px;line-height:30.0px;color:#1c2b34;letter-spacing:0.500px;">18:25</span><span class="t" style="left:1601.1px;top:1542.7px;font-size:25px;line-height:30.0px;color:#1c2b34;letter-spacing:0.500px;">18:30</span><span class="t" style="left:1763.3px;top:1542.7px;font-size:25px;line-height:30.0px;color:#1c2b34;letter-spacing:0.500px;">18:35</span><span class="t" style="left:1925.6px;top:1542.7px;font-size:25px;line-height:30.0px;color:#1c2b34;letter-spacing:0.500px;">18:40</span><span class="t" style="left:2087.9px;top:1542.7px;font-size:25px;line-height:30.0px;color:#1c2b34;letter-spacing:0.500px;">18:45</span><span class="t" style="left:2250.2px;top:1542.7px;font-size:25px;line-height:30.0px;color:#1c2b34;letter-spacing:0.500px;">18:50</span><span class="t" style="left:2412.5px;top:1542.7px;font-size:25px;line-height:30.0px;color:#1c2b34;letter-spacing:0.500px;">18:55</span><span class="t" style="left:2574.7px;top:1542.7px;font-size:25px;line-height:30.0px;color:#1c2b34;letter-spacing:0.500px;">19:00</span></body></html>
